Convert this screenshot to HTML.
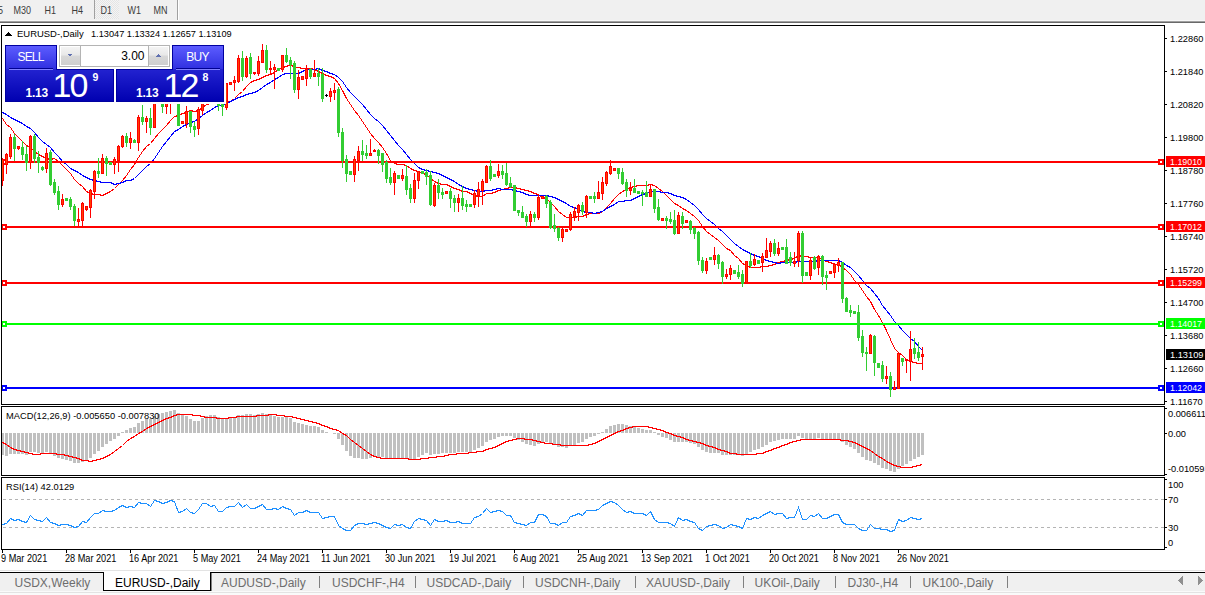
<!DOCTYPE html>
<html><head><meta charset="utf-8"><style>
html,body{margin:0;padding:0;background:#fff;width:1205px;height:595px;overflow:hidden}
svg{display:block;font-family:"Liberation Sans", sans-serif}
text{shape-rendering:auto}
</style></head><body>
<svg width="1205" height="595" viewBox="0 0 1205 595" shape-rendering="crispEdges">
<defs><pattern id="dots" width="2" height="2" patternUnits="userSpaceOnUse"><rect width="2" height="2" fill="#f4f4f4"/><rect width="1" height="1" fill="#e4e4e4"/><rect x="1" y="1" width="1" height="1" fill="#e4e4e4"/></pattern><linearGradient id="tabg" x1="0" y1="0" x2="0" y2="1"><stop offset="0" stop-color="#5c5cff"/><stop offset="1" stop-color="#3030e0"/></linearGradient><linearGradient id="blkg" x1="0" y1="0" x2="0" y2="1"><stop offset="0" stop-color="#3c3ce8"/><stop offset="1" stop-color="#0000b0"/></linearGradient><linearGradient id="btng" x1="0" y1="0" x2="0" y2="1"><stop offset="0" stop-color="#f4f4f4"/><stop offset="0.45" stop-color="#e8e8e8"/><stop offset="0.5" stop-color="#d8d8d8"/><stop offset="1" stop-color="#cfcfcf"/></linearGradient></defs>
<rect x="0" y="0" width="1205" height="21" fill="#f0f0f0"/>
<rect x="0" y="20" width="1205" height="1" fill="#f7f7f7"/>
<rect x="0" y="21" width="1205" height="1" fill="#a0a0a0"/>
<rect x="0" y="22" width="1205" height="1" fill="#696969"/>
<rect x="95" y="0" width="24" height="19" fill="url(#dots)"/>
<rect x="94" y="0" width="1" height="19" fill="#a0a0a0"/>
<rect x="177" y="0" width="1" height="20" fill="#a0a0a0"/><rect x="178" y="0" width="1" height="20" fill="#ffffff"/>
<text x="-14.5" y="13.5" font-size="10.2" fill="#3c3c3c" text-anchor="start" font-weight="normal" textLength="17.51" lengthAdjust="spacingAndGlyphs">M15</text>
<text x="13.5" y="13.5" font-size="10.2" fill="#3c3c3c" text-anchor="start" font-weight="normal" textLength="17.51" lengthAdjust="spacingAndGlyphs">M30</text>
<text x="44.5" y="13.5" font-size="10.2" fill="#3c3c3c" text-anchor="start" font-weight="normal" textLength="11.50" lengthAdjust="spacingAndGlyphs">H1</text>
<text x="71.5" y="13.5" font-size="10.2" fill="#3c3c3c" text-anchor="start" font-weight="normal" textLength="11.50" lengthAdjust="spacingAndGlyphs">H4</text>
<text x="100.5" y="13.5" font-size="10.2" fill="#3c3c3c" text-anchor="start" font-weight="normal" textLength="11.50" lengthAdjust="spacingAndGlyphs">D1</text>
<text x="127.5" y="13.5" font-size="10.2" fill="#3c3c3c" text-anchor="start" font-weight="normal" textLength="13.50" lengthAdjust="spacingAndGlyphs">W1</text>
<text x="153.5" y="13.5" font-size="10.2" fill="#3c3c3c" text-anchor="start" font-weight="normal" textLength="14.00" lengthAdjust="spacingAndGlyphs">MN</text>
<rect x="1.5" y="25.5" width="1163" height="379" fill="#fff" stroke="#000" stroke-width="1"/>
<rect x="1.5" y="406.5" width="1163" height="69" fill="#fff" stroke="#000" stroke-width="1"/>
<rect x="1.5" y="477.5" width="1163" height="72" fill="#fff" stroke="#000" stroke-width="1"/>
<clipPath id="mainclip"><rect x="2" y="26" width="1162" height="378"/></clipPath>
<clipPath id="macdclip"><rect x="2" y="407" width="1162" height="68"/></clipPath>
<clipPath id="rsiclip"><rect x="2" y="478" width="1162" height="71"/></clipPath>
<g clip-path="url(#mainclip)">
<polyline points="2.5,118.5 6.5,124.5 10.5,127.5 14.5,133.5 18.5,137.5 22.5,141.5 26.5,145.5 30.5,147.5 34.5,151.5 38.5,154.5 42.5,156.5 46.5,158.5 50.5,159.5 54.5,158.5 58.5,161.5 62.5,165.5 66.5,169.5 70.5,173.5 74.5,179.5 78.5,183.5 82.5,186.5 86.5,191.5 90.5,193.5 94.5,194.5 98.5,194.5 102.5,195.5 106.5,193.5 110.5,191.5 114.5,188.5 118.5,184.5 122.5,180.5 126.5,175.5 130.5,169.5 134.5,164.5 138.5,157.5 142.5,151.5 146.5,146.5 150.5,143.5 154.5,138.5 158.5,133.5 162.5,129.5 166.5,125.5 170.5,120.5 174.5,116.5 178.5,115.5 182.5,113.5 186.5,112.5 190.5,110.5 194.5,111.5 198.5,110.5 202.5,107.5 206.5,104.5 210.5,103.5 214.5,102.5 218.5,102.5 222.5,102.5 226.5,102.5 230.5,101.5 234.5,98.5 238.5,94.5 242.5,91.5 246.5,86.5 250.5,82.5 254.5,80.5 258.5,79.5 262.5,77.5 266.5,75.5 270.5,74.5 274.5,72.5 278.5,69.5 282.5,67.5 286.5,66.5 290.5,64.5 294.5,67.5 298.5,67.5 302.5,68.5 306.5,68.5 310.5,68.5 314.5,69.5 318.5,71.5 322.5,73.5 326.5,75.5 330.5,76.5 334.5,78.5 338.5,83.5 342.5,90.5 346.5,98.5 350.5,104.5 354.5,110.5 358.5,115.5 362.5,121.5 366.5,127.5 370.5,133.5 374.5,138.5 378.5,142.5 382.5,147.5 386.5,153.5 390.5,160.5 394.5,163.5 398.5,164.5 402.5,164.5 406.5,165.5 410.5,168.5 414.5,170.5 418.5,171.5 422.5,173.5 426.5,174.5 430.5,178.5 434.5,181.5 438.5,183.5 442.5,184.5 446.5,184.5 450.5,186.5 454.5,188.5 458.5,189.5 462.5,191.5 466.5,191.5 470.5,193.5 474.5,195.5 478.5,196.5 482.5,196.5 486.5,193.5 490.5,193.5 494.5,192.5 498.5,190.5 502.5,189.5 506.5,188.5 510.5,187.5 514.5,187.5 518.5,188.5 522.5,189.5 526.5,190.5 530.5,191.5 534.5,193.5 538.5,194.5 542.5,197.5 546.5,198.5 550.5,202.5 554.5,206.5 558.5,211.5 562.5,214.5 566.5,217.5 570.5,217.5 574.5,217.5 578.5,216.5 582.5,216.5 586.5,214.5 590.5,213.5 594.5,213.5 598.5,213.5 602.5,211.5 606.5,207.5 610.5,203.5 614.5,198.5 618.5,194.5 622.5,191.5 626.5,189.5 630.5,187.5 634.5,186.5 638.5,185.5 642.5,185.5 646.5,185.5 650.5,184.5 654.5,185.5 658.5,188.5 662.5,191.5 666.5,195.5 670.5,199.5 674.5,203.5 678.5,205.5 682.5,208.5 686.5,210.5 690.5,213.5 694.5,216.5 698.5,220.5 702.5,226.5 706.5,231.5 710.5,234.5 714.5,237.5 718.5,240.5 722.5,244.5 726.5,248.5 730.5,250.5 734.5,255.5 738.5,258.5 742.5,263.5 746.5,265.5 750.5,267.5 754.5,267.5 758.5,267.5 762.5,266.5 766.5,266.5 770.5,265.5 774.5,264.5 778.5,262.5 782.5,261.5 786.5,260.5 790.5,259.5 794.5,258.5 798.5,255.5 802.5,256.5 806.5,256.5 810.5,257.5 814.5,257.5 818.5,257.5 822.5,259.5 826.5,261.5 830.5,262.5 834.5,264.5 838.5,264.5 842.5,267.5 846.5,270.5 850.5,274.5 854.5,280.5 858.5,284.5 862.5,290.5 866.5,296.5 870.5,301.5 874.5,309.5 878.5,315.5 882.5,322.5 886.5,330.5 890.5,339.5 894.5,348.5 898.5,352.5 902.5,355.5 906.5,359.5 910.5,361.5 914.5,362.5 918.5,363.5 922.5,363.5" fill="none" stroke="#ff0000" stroke-width="1" />
<polyline points="2.5,112.5 6.5,114.5 10.5,117.5 14.5,119.5 18.5,121.5 22.5,123.5 26.5,126.5 30.5,128.5 34.5,132.5 38.5,137.5 42.5,141.5 46.5,144.5 50.5,147.5 54.5,152.5 58.5,156.5 62.5,161.5 66.5,164.5 70.5,168.5 74.5,170.5 78.5,172.5 82.5,175.5 86.5,177.5 90.5,179.5 94.5,180.5 98.5,181.5 102.5,182.5 106.5,182.5 110.5,182.5 114.5,184.5 118.5,183.5 122.5,182.5 126.5,180.5 130.5,180.5 134.5,178.5 138.5,174.5 142.5,170.5 146.5,166.5 150.5,163.5 154.5,158.5 158.5,152.5 162.5,146.5 166.5,141.5 170.5,136.5 174.5,131.5 178.5,129.5 182.5,126.5 186.5,124.5 190.5,122.5 194.5,121.5 198.5,118.5 202.5,115.5 206.5,112.5 210.5,110.5 214.5,107.5 218.5,105.5 222.5,105.5 226.5,103.5 230.5,101.5 234.5,99.5 238.5,97.5 242.5,96.5 246.5,94.5 250.5,93.5 254.5,92.5 258.5,90.5 262.5,87.5 266.5,84.5 270.5,82.5 274.5,79.5 278.5,77.5 282.5,74.5 286.5,73.5 290.5,73.5 294.5,73.5 298.5,73.5 302.5,71.5 306.5,69.5 310.5,69.5 314.5,69.5 318.5,68.5 322.5,70.5 326.5,71.5 330.5,73.5 334.5,74.5 338.5,77.5 342.5,81.5 346.5,87.5 350.5,92.5 354.5,96.5 358.5,100.5 362.5,104.5 366.5,109.5 370.5,114.5 374.5,118.5 378.5,121.5 382.5,125.5 386.5,130.5 390.5,135.5 394.5,140.5 398.5,145.5 402.5,149.5 406.5,154.5 410.5,159.5 414.5,163.5 418.5,167.5 422.5,169.5 426.5,170.5 430.5,171.5 434.5,172.5 438.5,173.5 442.5,175.5 446.5,177.5 450.5,179.5 454.5,181.5 458.5,184.5 462.5,186.5 466.5,188.5 470.5,189.5 474.5,190.5 478.5,191.5 482.5,191.5 486.5,190.5 490.5,190.5 494.5,189.5 498.5,188.5 502.5,189.5 506.5,189.5 510.5,189.5 514.5,190.5 518.5,191.5 522.5,192.5 526.5,194.5 530.5,195.5 534.5,195.5 538.5,195.5 542.5,195.5 546.5,195.5 550.5,196.5 554.5,197.5 558.5,199.5 562.5,201.5 566.5,203.5 570.5,206.5 574.5,207.5 578.5,209.5 582.5,211.5 586.5,212.5 590.5,212.5 594.5,213.5 598.5,212.5 602.5,211.5 606.5,208.5 610.5,206.5 614.5,204.5 618.5,201.5 622.5,201.5 626.5,200.5 630.5,200.5 634.5,198.5 638.5,196.5 642.5,194.5 646.5,193.5 650.5,191.5 654.5,191.5 658.5,191.5 662.5,192.5 666.5,192.5 670.5,193.5 674.5,195.5 678.5,196.5 682.5,197.5 686.5,199.5 690.5,202.5 694.5,205.5 698.5,209.5 702.5,214.5 706.5,218.5 710.5,221.5 714.5,224.5 718.5,228.5 722.5,231.5 726.5,235.5 730.5,239.5 734.5,243.5 738.5,246.5 742.5,249.5 746.5,251.5 750.5,253.5 754.5,255.5 758.5,256.5 762.5,258.5 766.5,260.5 770.5,261.5 774.5,262.5 778.5,263.5 782.5,262.5 786.5,262.5 790.5,262.5 794.5,262.5 798.5,261.5 802.5,261.5 806.5,261.5 810.5,261.5 814.5,261.5 818.5,260.5 822.5,260.5 826.5,260.5 830.5,260.5 834.5,260.5 838.5,260.5 842.5,262.5 846.5,265.5 850.5,267.5 854.5,271.5 858.5,275.5 862.5,280.5 866.5,285.5 870.5,288.5 874.5,293.5 878.5,298.5 882.5,305.5 886.5,310.5 890.5,315.5 894.5,321.5 898.5,325.5 902.5,330.5 906.5,334.5 910.5,338.5 914.5,341.5 918.5,346.5 922.5,350.5" fill="none" stroke="#0000ff" stroke-width="1" />
<rect x="2" y="161" width="1163" height="2" fill="#ff0000"/>
<rect x="1" y="159" width="6" height="6" fill="#ff0000"/>
<rect x="3" y="161" width="2" height="2" fill="#fff"/>
<rect x="1158" y="159" width="6" height="6" fill="#ff0000"/>
<rect x="1160" y="161" width="2" height="2" fill="#fff"/>
<rect x="2" y="226" width="1163" height="2" fill="#ff0000"/>
<rect x="1" y="224" width="6" height="6" fill="#ff0000"/>
<rect x="3" y="226" width="2" height="2" fill="#fff"/>
<rect x="1158" y="224" width="6" height="6" fill="#ff0000"/>
<rect x="1160" y="226" width="2" height="2" fill="#fff"/>
<rect x="2" y="282" width="1163" height="2" fill="#ff0000"/>
<rect x="1" y="280" width="6" height="6" fill="#ff0000"/>
<rect x="3" y="282" width="2" height="2" fill="#fff"/>
<rect x="1158" y="280" width="6" height="6" fill="#ff0000"/>
<rect x="1160" y="282" width="2" height="2" fill="#fff"/>
<rect x="2" y="323" width="1163" height="2" fill="#00ff00"/>
<rect x="1" y="321" width="6" height="6" fill="#00ff00"/>
<rect x="3" y="323" width="2" height="2" fill="#fff"/>
<rect x="1158" y="321" width="6" height="6" fill="#00ff00"/>
<rect x="1160" y="323" width="2" height="2" fill="#fff"/>
<rect x="2" y="387" width="1163" height="2" fill="#0000ff"/>
<rect x="1" y="385" width="6" height="6" fill="#0000ff"/>
<rect x="3" y="387" width="2" height="2" fill="#fff"/>
<rect x="1158" y="385" width="6" height="6" fill="#0000ff"/>
<rect x="1160" y="387" width="2" height="2" fill="#fff"/>
<rect x="2" y="158" width="1" height="28" fill="#ff0000"/>
<rect x="1" y="159" width="3" height="22" fill="#ff0000"/>
<rect x="2" y="160" width="1" height="20" fill="#ff4000"/>
<rect x="6" y="153" width="1" height="21" fill="#ff0000"/>
<rect x="5" y="154" width="3" height="11" fill="#ff0000"/>
<rect x="6" y="155" width="1" height="9" fill="#ff4000"/>
<rect x="10" y="134" width="1" height="25" fill="#ff0000"/>
<rect x="9" y="137" width="3" height="20" fill="#ff0000"/>
<rect x="10" y="138" width="1" height="18" fill="#ff4000"/>
<rect x="14" y="134" width="1" height="27" fill="#32cd32"/>
<rect x="13" y="137" width="3" height="12" fill="#32cd32"/>
<rect x="18" y="146" width="1" height="4" fill="#ff0000"/>
<rect x="17" y="146" width="3" height="3" fill="#ff0000"/>
<rect x="18" y="147" width="1" height="1" fill="#ff4000"/>
<rect x="22" y="141" width="1" height="19" fill="#32cd32"/>
<rect x="21" y="147" width="3" height="8" fill="#32cd32"/>
<rect x="26" y="146" width="1" height="25" fill="#32cd32"/>
<rect x="25" y="154" width="3" height="9" fill="#32cd32"/>
<rect x="30" y="135" width="1" height="34" fill="#ff0000"/>
<rect x="29" y="136" width="3" height="27" fill="#ff0000"/>
<rect x="30" y="137" width="1" height="25" fill="#ff4000"/>
<rect x="34" y="134" width="1" height="29" fill="#32cd32"/>
<rect x="33" y="136" width="3" height="23" fill="#32cd32"/>
<rect x="38" y="151" width="1" height="22" fill="#32cd32"/>
<rect x="37" y="157" width="3" height="6" fill="#32cd32"/>
<rect x="42" y="166" width="1" height="5" fill="#32cd32"/>
<rect x="41" y="167" width="3" height="3" fill="#32cd32"/>
<rect x="46" y="148" width="1" height="25" fill="#ff0000"/>
<rect x="45" y="153" width="3" height="16" fill="#ff0000"/>
<rect x="46" y="154" width="1" height="14" fill="#ff4000"/>
<rect x="50" y="150" width="1" height="36" fill="#32cd32"/>
<rect x="49" y="152" width="3" height="33" fill="#32cd32"/>
<rect x="54" y="179" width="1" height="16" fill="#32cd32"/>
<rect x="53" y="182" width="3" height="11" fill="#32cd32"/>
<rect x="58" y="186" width="1" height="24" fill="#32cd32"/>
<rect x="57" y="191" width="3" height="14" fill="#32cd32"/>
<rect x="62" y="194" width="1" height="13" fill="#ff0000"/>
<rect x="61" y="199" width="3" height="6" fill="#ff0000"/>
<rect x="62" y="200" width="1" height="4" fill="#ff4000"/>
<rect x="66" y="198" width="1" height="3" fill="#32cd32"/>
<rect x="65" y="198" width="3" height="3" fill="#32cd32"/>
<rect x="70" y="197" width="1" height="13" fill="#32cd32"/>
<rect x="69" y="199" width="3" height="8" fill="#32cd32"/>
<rect x="74" y="204" width="1" height="22" fill="#32cd32"/>
<rect x="73" y="206" width="3" height="15" fill="#32cd32"/>
<rect x="78" y="208" width="1" height="19" fill="#ff0000"/>
<rect x="77" y="219" width="3" height="3" fill="#ff0000"/>
<rect x="78" y="220" width="1" height="1" fill="#ff4000"/>
<rect x="82" y="202" width="1" height="24" fill="#ff0000"/>
<rect x="81" y="203" width="3" height="18" fill="#ff0000"/>
<rect x="82" y="204" width="1" height="16" fill="#ff4000"/>
<rect x="86" y="206" width="1" height="5" fill="#ff0000"/>
<rect x="85" y="206" width="3" height="4" fill="#ff0000"/>
<rect x="86" y="207" width="1" height="2" fill="#ff4000"/>
<rect x="90" y="189" width="1" height="29" fill="#ff0000"/>
<rect x="89" y="190" width="3" height="18" fill="#ff0000"/>
<rect x="90" y="191" width="1" height="16" fill="#ff4000"/>
<rect x="94" y="170" width="1" height="29" fill="#ff0000"/>
<rect x="93" y="171" width="3" height="21" fill="#ff0000"/>
<rect x="94" y="172" width="1" height="19" fill="#ff4000"/>
<rect x="98" y="158" width="1" height="20" fill="#32cd32"/>
<rect x="97" y="171" width="3" height="3" fill="#32cd32"/>
<rect x="102" y="154" width="1" height="20" fill="#ff0000"/>
<rect x="101" y="158" width="3" height="16" fill="#ff0000"/>
<rect x="102" y="159" width="1" height="14" fill="#ff4000"/>
<rect x="106" y="156" width="1" height="20" fill="#32cd32"/>
<rect x="105" y="158" width="3" height="6" fill="#32cd32"/>
<rect x="110" y="162" width="1" height="3" fill="#32cd32"/>
<rect x="109" y="162" width="3" height="3" fill="#32cd32"/>
<rect x="114" y="157" width="1" height="17" fill="#ff0000"/>
<rect x="113" y="159" width="3" height="6" fill="#ff0000"/>
<rect x="114" y="160" width="1" height="4" fill="#ff4000"/>
<rect x="118" y="145" width="1" height="27" fill="#ff0000"/>
<rect x="117" y="146" width="3" height="15" fill="#ff0000"/>
<rect x="118" y="147" width="1" height="13" fill="#ff4000"/>
<rect x="122" y="135" width="1" height="13" fill="#ff0000"/>
<rect x="121" y="136" width="3" height="11" fill="#ff0000"/>
<rect x="122" y="137" width="1" height="9" fill="#ff4000"/>
<rect x="126" y="133" width="1" height="14" fill="#32cd32"/>
<rect x="125" y="136" width="3" height="7" fill="#32cd32"/>
<rect x="130" y="132" width="1" height="17" fill="#ff0000"/>
<rect x="129" y="138" width="3" height="5" fill="#ff0000"/>
<rect x="130" y="139" width="1" height="3" fill="#ff4000"/>
<rect x="134" y="139" width="1" height="4" fill="#32cd32"/>
<rect x="133" y="140" width="3" height="3" fill="#32cd32"/>
<rect x="138" y="115" width="1" height="36" fill="#ff0000"/>
<rect x="137" y="117" width="3" height="26" fill="#ff0000"/>
<rect x="138" y="118" width="1" height="24" fill="#ff4000"/>
<rect x="142" y="105" width="1" height="20" fill="#32cd32"/>
<rect x="141" y="117" width="3" height="5" fill="#32cd32"/>
<rect x="146" y="116" width="1" height="17" fill="#ff0000"/>
<rect x="145" y="118" width="3" height="4" fill="#ff0000"/>
<rect x="146" y="119" width="1" height="2" fill="#ff4000"/>
<rect x="150" y="108" width="1" height="27" fill="#32cd32"/>
<rect x="149" y="118" width="3" height="10" fill="#32cd32"/>
<rect x="154" y="96" width="1" height="32" fill="#ff0000"/>
<rect x="153" y="97" width="3" height="31" fill="#ff0000"/>
<rect x="154" y="98" width="1" height="29" fill="#ff4000"/>
<rect x="158" y="95" width="1" height="6" fill="#32cd32"/>
<rect x="157" y="97" width="3" height="2" fill="#32cd32"/>
<rect x="162" y="93" width="1" height="20" fill="#32cd32"/>
<rect x="161" y="97" width="3" height="10" fill="#32cd32"/>
<rect x="166" y="98" width="1" height="16" fill="#ff0000"/>
<rect x="165" y="100" width="3" height="7" fill="#ff0000"/>
<rect x="166" y="101" width="1" height="5" fill="#ff4000"/>
<rect x="170" y="82" width="1" height="32" fill="#ff0000"/>
<rect x="169" y="88" width="3" height="13" fill="#ff0000"/>
<rect x="170" y="89" width="1" height="11" fill="#ff4000"/>
<rect x="174" y="82" width="1" height="16" fill="#32cd32"/>
<rect x="173" y="88" width="3" height="4" fill="#32cd32"/>
<rect x="178" y="89" width="1" height="37" fill="#32cd32"/>
<rect x="177" y="91" width="3" height="35" fill="#32cd32"/>
<rect x="182" y="121" width="1" height="3" fill="#ff0000"/>
<rect x="181" y="121" width="3" height="3" fill="#ff0000"/>
<rect x="182" y="122" width="1" height="1" fill="#ff4000"/>
<rect x="186" y="106" width="1" height="22" fill="#ff0000"/>
<rect x="185" y="111" width="3" height="13" fill="#ff0000"/>
<rect x="186" y="112" width="1" height="11" fill="#ff4000"/>
<rect x="190" y="111" width="1" height="22" fill="#32cd32"/>
<rect x="189" y="111" width="3" height="16" fill="#32cd32"/>
<rect x="194" y="122" width="1" height="15" fill="#32cd32"/>
<rect x="193" y="126" width="3" height="4" fill="#32cd32"/>
<rect x="198" y="107" width="1" height="28" fill="#ff0000"/>
<rect x="197" y="109" width="3" height="20" fill="#ff0000"/>
<rect x="198" y="110" width="1" height="18" fill="#ff4000"/>
<rect x="202" y="75" width="1" height="40" fill="#ff0000"/>
<rect x="201" y="76" width="3" height="35" fill="#ff0000"/>
<rect x="202" y="77" width="1" height="33" fill="#ff4000"/>
<rect x="206" y="75" width="1" height="4" fill="#32cd32"/>
<rect x="205" y="76" width="3" height="2" fill="#32cd32"/>
<rect x="210" y="70" width="1" height="20" fill="#32cd32"/>
<rect x="209" y="76" width="3" height="12" fill="#32cd32"/>
<rect x="214" y="69" width="1" height="20" fill="#ff0000"/>
<rect x="213" y="82" width="3" height="6" fill="#ff0000"/>
<rect x="214" y="83" width="1" height="4" fill="#ff4000"/>
<rect x="218" y="80" width="1" height="31" fill="#32cd32"/>
<rect x="217" y="82" width="3" height="24" fill="#32cd32"/>
<rect x="222" y="97" width="1" height="19" fill="#32cd32"/>
<rect x="221" y="103" width="3" height="4" fill="#32cd32"/>
<rect x="226" y="83" width="1" height="27" fill="#ff0000"/>
<rect x="225" y="83" width="3" height="25" fill="#ff0000"/>
<rect x="226" y="84" width="1" height="23" fill="#ff4000"/>
<rect x="230" y="82" width="1" height="3" fill="#ff0000"/>
<rect x="229" y="82" width="3" height="3" fill="#ff0000"/>
<rect x="230" y="83" width="1" height="1" fill="#ff4000"/>
<rect x="234" y="76" width="1" height="15" fill="#ff0000"/>
<rect x="233" y="80" width="3" height="3" fill="#ff0000"/>
<rect x="234" y="81" width="1" height="1" fill="#ff4000"/>
<rect x="238" y="55" width="1" height="28" fill="#ff0000"/>
<rect x="237" y="58" width="3" height="24" fill="#ff0000"/>
<rect x="238" y="59" width="1" height="22" fill="#ff4000"/>
<rect x="242" y="51" width="1" height="30" fill="#32cd32"/>
<rect x="241" y="58" width="3" height="19" fill="#32cd32"/>
<rect x="246" y="56" width="1" height="22" fill="#ff0000"/>
<rect x="245" y="58" width="3" height="19" fill="#ff0000"/>
<rect x="246" y="59" width="1" height="17" fill="#ff4000"/>
<rect x="250" y="53" width="1" height="26" fill="#32cd32"/>
<rect x="249" y="57" width="3" height="17" fill="#32cd32"/>
<rect x="254" y="72" width="1" height="3" fill="#ff0000"/>
<rect x="253" y="72" width="3" height="2" fill="#ff0000"/>
<rect x="258" y="56" width="1" height="20" fill="#ff0000"/>
<rect x="257" y="61" width="3" height="13" fill="#ff0000"/>
<rect x="258" y="62" width="1" height="11" fill="#ff4000"/>
<rect x="262" y="44" width="1" height="19" fill="#ff0000"/>
<rect x="261" y="50" width="3" height="13" fill="#ff0000"/>
<rect x="262" y="51" width="1" height="11" fill="#ff4000"/>
<rect x="266" y="45" width="1" height="28" fill="#32cd32"/>
<rect x="265" y="50" width="3" height="20" fill="#32cd32"/>
<rect x="270" y="61" width="1" height="14" fill="#ff0000"/>
<rect x="269" y="68" width="3" height="2" fill="#ff0000"/>
<rect x="274" y="64" width="1" height="25" fill="#ff0000"/>
<rect x="273" y="67" width="3" height="3" fill="#ff0000"/>
<rect x="274" y="68" width="1" height="1" fill="#ff4000"/>
<rect x="278" y="68" width="1" height="3" fill="#32cd32"/>
<rect x="277" y="68" width="3" height="3" fill="#32cd32"/>
<rect x="282" y="55" width="1" height="17" fill="#ff0000"/>
<rect x="281" y="55" width="3" height="15" fill="#ff0000"/>
<rect x="282" y="56" width="1" height="13" fill="#ff4000"/>
<rect x="286" y="48" width="1" height="15" fill="#32cd32"/>
<rect x="285" y="55" width="3" height="7" fill="#32cd32"/>
<rect x="290" y="57" width="1" height="22" fill="#32cd32"/>
<rect x="289" y="60" width="3" height="5" fill="#32cd32"/>
<rect x="294" y="61" width="1" height="32" fill="#32cd32"/>
<rect x="293" y="63" width="3" height="27" fill="#32cd32"/>
<rect x="298" y="70" width="1" height="29" fill="#ff0000"/>
<rect x="297" y="77" width="3" height="13" fill="#ff0000"/>
<rect x="298" y="78" width="1" height="11" fill="#ff4000"/>
<rect x="302" y="76" width="1" height="4" fill="#ff0000"/>
<rect x="301" y="76" width="3" height="4" fill="#ff0000"/>
<rect x="302" y="77" width="1" height="2" fill="#ff4000"/>
<rect x="306" y="65" width="1" height="21" fill="#ff0000"/>
<rect x="305" y="69" width="3" height="10" fill="#ff0000"/>
<rect x="306" y="70" width="1" height="8" fill="#ff4000"/>
<rect x="310" y="68" width="1" height="11" fill="#32cd32"/>
<rect x="309" y="69" width="3" height="8" fill="#32cd32"/>
<rect x="314" y="60" width="1" height="17" fill="#ff0000"/>
<rect x="313" y="73" width="3" height="4" fill="#ff0000"/>
<rect x="314" y="74" width="1" height="2" fill="#ff4000"/>
<rect x="318" y="68" width="1" height="18" fill="#32cd32"/>
<rect x="317" y="73" width="3" height="4" fill="#32cd32"/>
<rect x="322" y="68" width="1" height="34" fill="#32cd32"/>
<rect x="321" y="74" width="3" height="25" fill="#32cd32"/>
<rect x="326" y="94" width="1" height="3" fill="#000"/>
<rect x="325" y="95" width="3" height="1" fill="#000"/>
<rect x="330" y="88" width="1" height="14" fill="#ff0000"/>
<rect x="329" y="91" width="3" height="6" fill="#ff0000"/>
<rect x="330" y="92" width="1" height="4" fill="#ff4000"/>
<rect x="334" y="83" width="1" height="17" fill="#ff0000"/>
<rect x="333" y="90" width="3" height="3" fill="#ff0000"/>
<rect x="334" y="91" width="1" height="1" fill="#ff4000"/>
<rect x="338" y="87" width="1" height="50" fill="#32cd32"/>
<rect x="337" y="89" width="3" height="44" fill="#32cd32"/>
<rect x="342" y="128" width="1" height="40" fill="#32cd32"/>
<rect x="341" y="132" width="3" height="29" fill="#32cd32"/>
<rect x="346" y="155" width="1" height="27" fill="#32cd32"/>
<rect x="345" y="159" width="3" height="15" fill="#32cd32"/>
<rect x="350" y="171" width="1" height="4" fill="#32cd32"/>
<rect x="349" y="171" width="3" height="4" fill="#32cd32"/>
<rect x="354" y="156" width="1" height="26" fill="#ff0000"/>
<rect x="353" y="159" width="3" height="16" fill="#ff0000"/>
<rect x="354" y="160" width="1" height="14" fill="#ff4000"/>
<rect x="358" y="146" width="1" height="25" fill="#ff0000"/>
<rect x="357" y="151" width="3" height="10" fill="#ff0000"/>
<rect x="358" y="152" width="1" height="8" fill="#ff4000"/>
<rect x="362" y="140" width="1" height="21" fill="#32cd32"/>
<rect x="361" y="151" width="3" height="4" fill="#32cd32"/>
<rect x="366" y="145" width="1" height="14" fill="#32cd32"/>
<rect x="365" y="153" width="3" height="3" fill="#32cd32"/>
<rect x="370" y="139" width="1" height="17" fill="#ff0000"/>
<rect x="369" y="153" width="3" height="3" fill="#ff0000"/>
<rect x="370" y="154" width="1" height="1" fill="#ff4000"/>
<rect x="374" y="149" width="1" height="3" fill="#ff0000"/>
<rect x="373" y="150" width="3" height="2" fill="#ff0000"/>
<rect x="378" y="149" width="1" height="15" fill="#32cd32"/>
<rect x="377" y="150" width="3" height="6" fill="#32cd32"/>
<rect x="382" y="153" width="1" height="19" fill="#32cd32"/>
<rect x="381" y="153" width="3" height="12" fill="#32cd32"/>
<rect x="386" y="160" width="1" height="23" fill="#32cd32"/>
<rect x="385" y="162" width="3" height="17" fill="#32cd32"/>
<rect x="390" y="168" width="1" height="17" fill="#32cd32"/>
<rect x="389" y="177" width="3" height="6" fill="#32cd32"/>
<rect x="394" y="171" width="1" height="24" fill="#ff0000"/>
<rect x="393" y="173" width="3" height="10" fill="#ff0000"/>
<rect x="394" y="174" width="1" height="8" fill="#ff4000"/>
<rect x="398" y="175" width="1" height="4" fill="#32cd32"/>
<rect x="397" y="175" width="3" height="4" fill="#32cd32"/>
<rect x="402" y="169" width="1" height="12" fill="#ff0000"/>
<rect x="401" y="175" width="3" height="4" fill="#ff0000"/>
<rect x="402" y="176" width="1" height="2" fill="#ff4000"/>
<rect x="406" y="165" width="1" height="30" fill="#32cd32"/>
<rect x="405" y="176" width="3" height="14" fill="#32cd32"/>
<rect x="410" y="184" width="1" height="19" fill="#32cd32"/>
<rect x="409" y="188" width="3" height="11" fill="#32cd32"/>
<rect x="414" y="173" width="1" height="30" fill="#ff0000"/>
<rect x="413" y="180" width="3" height="19" fill="#ff0000"/>
<rect x="414" y="181" width="1" height="17" fill="#ff4000"/>
<rect x="418" y="171" width="1" height="18" fill="#ff0000"/>
<rect x="417" y="171" width="3" height="10" fill="#ff0000"/>
<rect x="418" y="172" width="1" height="8" fill="#ff4000"/>
<rect x="422" y="171" width="1" height="3" fill="#32cd32"/>
<rect x="421" y="171" width="3" height="3" fill="#32cd32"/>
<rect x="426" y="169" width="1" height="16" fill="#32cd32"/>
<rect x="425" y="172" width="3" height="5" fill="#32cd32"/>
<rect x="430" y="171" width="1" height="35" fill="#32cd32"/>
<rect x="429" y="175" width="3" height="30" fill="#32cd32"/>
<rect x="434" y="183" width="1" height="24" fill="#ff0000"/>
<rect x="433" y="185" width="3" height="21" fill="#ff0000"/>
<rect x="434" y="186" width="1" height="19" fill="#ff4000"/>
<rect x="438" y="179" width="1" height="20" fill="#32cd32"/>
<rect x="437" y="185" width="3" height="8" fill="#32cd32"/>
<rect x="442" y="188" width="1" height="11" fill="#32cd32"/>
<rect x="441" y="192" width="3" height="3" fill="#32cd32"/>
<rect x="446" y="191" width="1" height="3" fill="#ff0000"/>
<rect x="445" y="191" width="3" height="3" fill="#ff0000"/>
<rect x="446" y="192" width="1" height="1" fill="#ff4000"/>
<rect x="450" y="188" width="1" height="20" fill="#32cd32"/>
<rect x="449" y="191" width="3" height="8" fill="#32cd32"/>
<rect x="454" y="195" width="1" height="17" fill="#32cd32"/>
<rect x="453" y="198" width="3" height="5" fill="#32cd32"/>
<rect x="458" y="194" width="1" height="18" fill="#ff0000"/>
<rect x="457" y="198" width="3" height="5" fill="#ff0000"/>
<rect x="458" y="199" width="1" height="3" fill="#ff4000"/>
<rect x="462" y="186" width="1" height="24" fill="#32cd32"/>
<rect x="461" y="198" width="3" height="8" fill="#32cd32"/>
<rect x="466" y="200" width="1" height="12" fill="#32cd32"/>
<rect x="465" y="204" width="3" height="3" fill="#32cd32"/>
<rect x="470" y="204" width="1" height="3" fill="#32cd32"/>
<rect x="469" y="204" width="3" height="3" fill="#32cd32"/>
<rect x="474" y="190" width="1" height="18" fill="#ff0000"/>
<rect x="473" y="193" width="3" height="12" fill="#ff0000"/>
<rect x="474" y="194" width="1" height="10" fill="#ff4000"/>
<rect x="478" y="182" width="1" height="25" fill="#ff0000"/>
<rect x="477" y="189" width="3" height="7" fill="#ff0000"/>
<rect x="478" y="190" width="1" height="5" fill="#ff4000"/>
<rect x="482" y="179" width="1" height="26" fill="#ff0000"/>
<rect x="481" y="181" width="3" height="10" fill="#ff0000"/>
<rect x="482" y="182" width="1" height="8" fill="#ff4000"/>
<rect x="486" y="165" width="1" height="18" fill="#ff0000"/>
<rect x="485" y="166" width="3" height="17" fill="#ff0000"/>
<rect x="486" y="167" width="1" height="15" fill="#ff4000"/>
<rect x="490" y="160" width="1" height="21" fill="#32cd32"/>
<rect x="489" y="166" width="3" height="13" fill="#32cd32"/>
<rect x="494" y="174" width="1" height="3" fill="#32cd32"/>
<rect x="493" y="174" width="3" height="3" fill="#32cd32"/>
<rect x="498" y="164" width="1" height="14" fill="#ff0000"/>
<rect x="497" y="171" width="3" height="5" fill="#ff0000"/>
<rect x="498" y="172" width="1" height="3" fill="#ff4000"/>
<rect x="502" y="165" width="1" height="14" fill="#32cd32"/>
<rect x="501" y="171" width="3" height="4" fill="#32cd32"/>
<rect x="506" y="163" width="1" height="23" fill="#32cd32"/>
<rect x="505" y="173" width="3" height="12" fill="#32cd32"/>
<rect x="510" y="177" width="1" height="11" fill="#32cd32"/>
<rect x="509" y="183" width="3" height="4" fill="#32cd32"/>
<rect x="514" y="185" width="1" height="26" fill="#32cd32"/>
<rect x="513" y="185" width="3" height="26" fill="#32cd32"/>
<rect x="518" y="210" width="1" height="6" fill="#32cd32"/>
<rect x="517" y="210" width="3" height="3" fill="#32cd32"/>
<rect x="522" y="206" width="1" height="12" fill="#32cd32"/>
<rect x="521" y="212" width="3" height="6" fill="#32cd32"/>
<rect x="526" y="214" width="1" height="13" fill="#32cd32"/>
<rect x="525" y="216" width="3" height="6" fill="#32cd32"/>
<rect x="530" y="211" width="1" height="16" fill="#ff0000"/>
<rect x="529" y="214" width="3" height="8" fill="#ff0000"/>
<rect x="530" y="215" width="1" height="6" fill="#ff4000"/>
<rect x="534" y="212" width="1" height="10" fill="#32cd32"/>
<rect x="533" y="214" width="3" height="4" fill="#32cd32"/>
<rect x="538" y="195" width="1" height="25" fill="#ff0000"/>
<rect x="537" y="197" width="3" height="21" fill="#ff0000"/>
<rect x="538" y="198" width="1" height="19" fill="#ff4000"/>
<rect x="542" y="196" width="1" height="3" fill="#ff0000"/>
<rect x="541" y="196" width="3" height="3" fill="#ff0000"/>
<rect x="542" y="197" width="1" height="1" fill="#ff4000"/>
<rect x="546" y="195" width="1" height="13" fill="#32cd32"/>
<rect x="545" y="196" width="3" height="8" fill="#32cd32"/>
<rect x="550" y="200" width="1" height="29" fill="#32cd32"/>
<rect x="549" y="202" width="3" height="26" fill="#32cd32"/>
<rect x="554" y="214" width="1" height="18" fill="#32cd32"/>
<rect x="553" y="225" width="3" height="4" fill="#32cd32"/>
<rect x="558" y="227" width="1" height="14" fill="#32cd32"/>
<rect x="557" y="228" width="3" height="10" fill="#32cd32"/>
<rect x="562" y="228" width="1" height="14" fill="#ff0000"/>
<rect x="561" y="229" width="3" height="9" fill="#ff0000"/>
<rect x="562" y="230" width="1" height="7" fill="#ff4000"/>
<rect x="566" y="229" width="1" height="3" fill="#ff0000"/>
<rect x="565" y="229" width="3" height="3" fill="#ff0000"/>
<rect x="566" y="230" width="1" height="1" fill="#ff4000"/>
<rect x="570" y="212" width="1" height="19" fill="#ff0000"/>
<rect x="569" y="214" width="3" height="16" fill="#ff0000"/>
<rect x="570" y="215" width="1" height="14" fill="#ff4000"/>
<rect x="574" y="207" width="1" height="14" fill="#ff0000"/>
<rect x="573" y="211" width="3" height="6" fill="#ff0000"/>
<rect x="574" y="212" width="1" height="4" fill="#ff4000"/>
<rect x="578" y="204" width="1" height="17" fill="#ff0000"/>
<rect x="577" y="205" width="3" height="8" fill="#ff0000"/>
<rect x="578" y="206" width="1" height="6" fill="#ff4000"/>
<rect x="582" y="202" width="1" height="13" fill="#32cd32"/>
<rect x="581" y="205" width="3" height="7" fill="#32cd32"/>
<rect x="586" y="195" width="1" height="23" fill="#ff0000"/>
<rect x="585" y="196" width="3" height="17" fill="#ff0000"/>
<rect x="586" y="197" width="1" height="15" fill="#ff4000"/>
<rect x="590" y="196" width="1" height="3" fill="#32cd32"/>
<rect x="589" y="196" width="3" height="3" fill="#32cd32"/>
<rect x="594" y="192" width="1" height="11" fill="#32cd32"/>
<rect x="593" y="196" width="3" height="3" fill="#32cd32"/>
<rect x="598" y="181" width="1" height="18" fill="#ff0000"/>
<rect x="597" y="192" width="3" height="7" fill="#ff0000"/>
<rect x="598" y="193" width="1" height="5" fill="#ff4000"/>
<rect x="602" y="177" width="1" height="23" fill="#ff0000"/>
<rect x="601" y="182" width="3" height="12" fill="#ff0000"/>
<rect x="602" y="183" width="1" height="10" fill="#ff4000"/>
<rect x="606" y="171" width="1" height="15" fill="#ff0000"/>
<rect x="605" y="172" width="3" height="12" fill="#ff0000"/>
<rect x="606" y="173" width="1" height="10" fill="#ff4000"/>
<rect x="610" y="160" width="1" height="15" fill="#ff0000"/>
<rect x="609" y="166" width="3" height="8" fill="#ff0000"/>
<rect x="610" y="167" width="1" height="6" fill="#ff4000"/>
<rect x="614" y="168" width="1" height="3" fill="#ff0000"/>
<rect x="613" y="168" width="3" height="3" fill="#ff0000"/>
<rect x="614" y="169" width="1" height="1" fill="#ff4000"/>
<rect x="618" y="168" width="1" height="11" fill="#32cd32"/>
<rect x="617" y="168" width="3" height="6" fill="#32cd32"/>
<rect x="622" y="168" width="1" height="17" fill="#32cd32"/>
<rect x="621" y="172" width="3" height="12" fill="#32cd32"/>
<rect x="626" y="179" width="1" height="18" fill="#32cd32"/>
<rect x="625" y="182" width="3" height="9" fill="#32cd32"/>
<rect x="630" y="182" width="1" height="13" fill="#ff0000"/>
<rect x="629" y="188" width="3" height="3" fill="#ff0000"/>
<rect x="630" y="189" width="1" height="1" fill="#ff4000"/>
<rect x="634" y="179" width="1" height="14" fill="#32cd32"/>
<rect x="633" y="188" width="3" height="5" fill="#32cd32"/>
<rect x="638" y="191" width="1" height="3" fill="#32cd32"/>
<rect x="637" y="191" width="3" height="3" fill="#32cd32"/>
<rect x="642" y="190" width="1" height="16" fill="#32cd32"/>
<rect x="641" y="192" width="3" height="2" fill="#32cd32"/>
<rect x="646" y="181" width="1" height="16" fill="#32cd32"/>
<rect x="645" y="192" width="3" height="5" fill="#32cd32"/>
<rect x="650" y="185" width="1" height="12" fill="#ff0000"/>
<rect x="649" y="189" width="3" height="8" fill="#ff0000"/>
<rect x="650" y="190" width="1" height="6" fill="#ff4000"/>
<rect x="654" y="189" width="1" height="24" fill="#32cd32"/>
<rect x="653" y="189" width="3" height="20" fill="#32cd32"/>
<rect x="658" y="199" width="1" height="22" fill="#32cd32"/>
<rect x="657" y="207" width="3" height="13" fill="#32cd32"/>
<rect x="662" y="218" width="1" height="3" fill="#ff0000"/>
<rect x="661" y="218" width="3" height="3" fill="#ff0000"/>
<rect x="662" y="219" width="1" height="1" fill="#ff4000"/>
<rect x="666" y="216" width="1" height="13" fill="#32cd32"/>
<rect x="665" y="218" width="3" height="3" fill="#32cd32"/>
<rect x="670" y="212" width="1" height="12" fill="#32cd32"/>
<rect x="669" y="219" width="3" height="3" fill="#32cd32"/>
<rect x="674" y="210" width="1" height="25" fill="#32cd32"/>
<rect x="673" y="220" width="3" height="14" fill="#32cd32"/>
<rect x="678" y="212" width="1" height="22" fill="#ff0000"/>
<rect x="677" y="215" width="3" height="19" fill="#ff0000"/>
<rect x="678" y="216" width="1" height="17" fill="#ff4000"/>
<rect x="682" y="212" width="1" height="17" fill="#32cd32"/>
<rect x="681" y="216" width="3" height="8" fill="#32cd32"/>
<rect x="686" y="220" width="1" height="3" fill="#ff0000"/>
<rect x="685" y="220" width="3" height="3" fill="#ff0000"/>
<rect x="686" y="221" width="1" height="1" fill="#ff4000"/>
<rect x="690" y="220" width="1" height="14" fill="#32cd32"/>
<rect x="689" y="221" width="3" height="9" fill="#32cd32"/>
<rect x="694" y="227" width="1" height="12" fill="#32cd32"/>
<rect x="693" y="228" width="3" height="6" fill="#32cd32"/>
<rect x="698" y="231" width="1" height="34" fill="#32cd32"/>
<rect x="697" y="232" width="3" height="29" fill="#32cd32"/>
<rect x="702" y="257" width="1" height="16" fill="#32cd32"/>
<rect x="701" y="260" width="3" height="11" fill="#32cd32"/>
<rect x="706" y="258" width="1" height="16" fill="#ff0000"/>
<rect x="705" y="261" width="3" height="10" fill="#ff0000"/>
<rect x="706" y="262" width="1" height="8" fill="#ff4000"/>
<rect x="710" y="257" width="1" height="3" fill="#32cd32"/>
<rect x="709" y="257" width="3" height="3" fill="#32cd32"/>
<rect x="714" y="247" width="1" height="18" fill="#ff0000"/>
<rect x="713" y="255" width="3" height="5" fill="#ff0000"/>
<rect x="714" y="256" width="1" height="3" fill="#ff4000"/>
<rect x="718" y="254" width="1" height="15" fill="#32cd32"/>
<rect x="717" y="255" width="3" height="9" fill="#32cd32"/>
<rect x="722" y="261" width="1" height="23" fill="#32cd32"/>
<rect x="721" y="262" width="3" height="15" fill="#32cd32"/>
<rect x="726" y="269" width="1" height="10" fill="#ff0000"/>
<rect x="725" y="274" width="3" height="3" fill="#ff0000"/>
<rect x="726" y="275" width="1" height="1" fill="#ff4000"/>
<rect x="730" y="265" width="1" height="15" fill="#ff0000"/>
<rect x="729" y="268" width="3" height="7" fill="#ff0000"/>
<rect x="730" y="269" width="1" height="5" fill="#ff4000"/>
<rect x="734" y="270" width="1" height="4" fill="#32cd32"/>
<rect x="733" y="270" width="3" height="4" fill="#32cd32"/>
<rect x="738" y="265" width="1" height="14" fill="#32cd32"/>
<rect x="737" y="272" width="3" height="5" fill="#32cd32"/>
<rect x="742" y="270" width="1" height="17" fill="#32cd32"/>
<rect x="741" y="274" width="3" height="10" fill="#32cd32"/>
<rect x="746" y="261" width="1" height="22" fill="#ff0000"/>
<rect x="745" y="261" width="3" height="22" fill="#ff0000"/>
<rect x="746" y="262" width="1" height="20" fill="#ff4000"/>
<rect x="750" y="253" width="1" height="15" fill="#32cd32"/>
<rect x="749" y="261" width="3" height="5" fill="#32cd32"/>
<rect x="754" y="254" width="1" height="12" fill="#ff0000"/>
<rect x="753" y="259" width="3" height="6" fill="#ff0000"/>
<rect x="754" y="260" width="1" height="4" fill="#ff4000"/>
<rect x="758" y="260" width="1" height="4" fill="#32cd32"/>
<rect x="757" y="260" width="3" height="4" fill="#32cd32"/>
<rect x="762" y="253" width="1" height="19" fill="#ff0000"/>
<rect x="761" y="256" width="3" height="7" fill="#ff0000"/>
<rect x="762" y="257" width="1" height="5" fill="#ff4000"/>
<rect x="766" y="238" width="1" height="20" fill="#ff0000"/>
<rect x="765" y="250" width="3" height="8" fill="#ff0000"/>
<rect x="766" y="251" width="1" height="6" fill="#ff4000"/>
<rect x="770" y="241" width="1" height="16" fill="#ff0000"/>
<rect x="769" y="243" width="3" height="9" fill="#ff0000"/>
<rect x="770" y="244" width="1" height="7" fill="#ff4000"/>
<rect x="774" y="239" width="1" height="17" fill="#32cd32"/>
<rect x="773" y="243" width="3" height="11" fill="#32cd32"/>
<rect x="778" y="242" width="1" height="14" fill="#ff0000"/>
<rect x="777" y="248" width="3" height="6" fill="#ff0000"/>
<rect x="778" y="249" width="1" height="4" fill="#ff4000"/>
<rect x="782" y="247" width="1" height="3" fill="#32cd32"/>
<rect x="781" y="247" width="3" height="3" fill="#32cd32"/>
<rect x="786" y="239" width="1" height="25" fill="#32cd32"/>
<rect x="785" y="247" width="3" height="17" fill="#32cd32"/>
<rect x="790" y="252" width="1" height="14" fill="#32cd32"/>
<rect x="789" y="257" width="3" height="6" fill="#32cd32"/>
<rect x="794" y="252" width="1" height="15" fill="#ff0000"/>
<rect x="793" y="261" width="3" height="3" fill="#ff0000"/>
<rect x="794" y="262" width="1" height="1" fill="#ff4000"/>
<rect x="798" y="231" width="1" height="36" fill="#ff0000"/>
<rect x="797" y="233" width="3" height="28" fill="#ff0000"/>
<rect x="798" y="234" width="1" height="26" fill="#ff4000"/>
<rect x="802" y="231" width="1" height="52" fill="#32cd32"/>
<rect x="801" y="233" width="3" height="43" fill="#32cd32"/>
<rect x="806" y="272" width="1" height="4" fill="#32cd32"/>
<rect x="805" y="272" width="3" height="4" fill="#32cd32"/>
<rect x="810" y="257" width="1" height="23" fill="#ff0000"/>
<rect x="809" y="260" width="3" height="16" fill="#ff0000"/>
<rect x="810" y="261" width="1" height="14" fill="#ff4000"/>
<rect x="814" y="256" width="1" height="14" fill="#32cd32"/>
<rect x="813" y="257" width="3" height="12" fill="#32cd32"/>
<rect x="818" y="255" width="1" height="20" fill="#ff0000"/>
<rect x="817" y="256" width="3" height="12" fill="#ff0000"/>
<rect x="818" y="257" width="1" height="10" fill="#ff4000"/>
<rect x="822" y="255" width="1" height="30" fill="#32cd32"/>
<rect x="821" y="256" width="3" height="21" fill="#32cd32"/>
<rect x="826" y="271" width="1" height="19" fill="#32cd32"/>
<rect x="825" y="275" width="3" height="3" fill="#32cd32"/>
<rect x="830" y="271" width="1" height="3" fill="#ff0000"/>
<rect x="829" y="271" width="3" height="3" fill="#ff0000"/>
<rect x="830" y="272" width="1" height="1" fill="#ff4000"/>
<rect x="834" y="263" width="1" height="15" fill="#ff0000"/>
<rect x="833" y="264" width="3" height="9" fill="#ff0000"/>
<rect x="834" y="265" width="1" height="7" fill="#ff4000"/>
<rect x="838" y="258" width="1" height="14" fill="#ff0000"/>
<rect x="837" y="262" width="3" height="4" fill="#ff0000"/>
<rect x="838" y="263" width="1" height="2" fill="#ff4000"/>
<rect x="842" y="262" width="1" height="41" fill="#32cd32"/>
<rect x="841" y="262" width="3" height="37" fill="#32cd32"/>
<rect x="846" y="297" width="1" height="15" fill="#32cd32"/>
<rect x="845" y="298" width="3" height="14" fill="#32cd32"/>
<rect x="850" y="305" width="1" height="12" fill="#32cd32"/>
<rect x="849" y="310" width="3" height="3" fill="#32cd32"/>
<rect x="854" y="311" width="1" height="3" fill="#32cd32"/>
<rect x="853" y="311" width="3" height="3" fill="#32cd32"/>
<rect x="858" y="305" width="1" height="36" fill="#32cd32"/>
<rect x="857" y="312" width="3" height="26" fill="#32cd32"/>
<rect x="862" y="330" width="1" height="27" fill="#32cd32"/>
<rect x="861" y="336" width="3" height="17" fill="#32cd32"/>
<rect x="866" y="347" width="1" height="24" fill="#32cd32"/>
<rect x="865" y="352" width="3" height="2" fill="#32cd32"/>
<rect x="870" y="334" width="1" height="20" fill="#ff0000"/>
<rect x="869" y="335" width="3" height="19" fill="#ff0000"/>
<rect x="870" y="336" width="1" height="17" fill="#ff4000"/>
<rect x="874" y="335" width="1" height="41" fill="#32cd32"/>
<rect x="873" y="336" width="3" height="27" fill="#32cd32"/>
<rect x="878" y="363" width="1" height="5" fill="#32cd32"/>
<rect x="877" y="363" width="3" height="5" fill="#32cd32"/>
<rect x="882" y="361" width="1" height="21" fill="#32cd32"/>
<rect x="881" y="365" width="3" height="14" fill="#32cd32"/>
<rect x="886" y="366" width="1" height="18" fill="#ff0000"/>
<rect x="885" y="376" width="3" height="3" fill="#ff0000"/>
<rect x="886" y="377" width="1" height="1" fill="#ff4000"/>
<rect x="890" y="372" width="1" height="25" fill="#32cd32"/>
<rect x="889" y="376" width="3" height="14" fill="#32cd32"/>
<rect x="894" y="381" width="1" height="9" fill="#ff0000"/>
<rect x="893" y="387" width="3" height="3" fill="#ff0000"/>
<rect x="894" y="388" width="1" height="1" fill="#ff4000"/>
<rect x="898" y="352" width="1" height="37" fill="#ff0000"/>
<rect x="897" y="353" width="3" height="36" fill="#ff0000"/>
<rect x="898" y="354" width="1" height="34" fill="#ff4000"/>
<rect x="902" y="358" width="1" height="8" fill="#32cd32"/>
<rect x="901" y="358" width="3" height="4" fill="#32cd32"/>
<rect x="906" y="359" width="1" height="14" fill="#ff0000"/>
<rect x="905" y="359" width="3" height="2" fill="#ff0000"/>
<rect x="910" y="331" width="1" height="50" fill="#ff0000"/>
<rect x="909" y="349" width="3" height="13" fill="#ff0000"/>
<rect x="910" y="350" width="1" height="11" fill="#ff4000"/>
<rect x="914" y="338" width="1" height="21" fill="#32cd32"/>
<rect x="913" y="348" width="3" height="6" fill="#32cd32"/>
<rect x="918" y="342" width="1" height="19" fill="#32cd32"/>
<rect x="917" y="352" width="3" height="6" fill="#32cd32"/>
<rect x="922" y="347" width="1" height="23" fill="#ff0000"/>
<rect x="921" y="354" width="3" height="3" fill="#ff0000"/>
<rect x="922" y="355" width="1" height="1" fill="#ff4000"/>
</g>
<g clip-path="url(#macdclip)"><rect x="2" y="433" width="2" height="22" fill="#c0c0c0"/>
<rect x="5" y="433" width="3" height="23" fill="#c0c0c0"/>
<rect x="9" y="433" width="3" height="21" fill="#c0c0c0"/>
<rect x="13" y="433" width="3" height="21" fill="#c0c0c0"/>
<rect x="17" y="433" width="3" height="21" fill="#c0c0c0"/>
<rect x="21" y="433" width="3" height="21" fill="#c0c0c0"/>
<rect x="25" y="433" width="3" height="22" fill="#c0c0c0"/>
<rect x="29" y="433" width="3" height="19" fill="#c0c0c0"/>
<rect x="33" y="433" width="3" height="19" fill="#c0c0c0"/>
<rect x="37" y="433" width="3" height="20" fill="#c0c0c0"/>
<rect x="41" y="433" width="3" height="20" fill="#c0c0c0"/>
<rect x="45" y="433" width="3" height="19" fill="#c0c0c0"/>
<rect x="49" y="433" width="3" height="21" fill="#c0c0c0"/>
<rect x="53" y="433" width="3" height="23" fill="#c0c0c0"/>
<rect x="57" y="433" width="3" height="25" fill="#c0c0c0"/>
<rect x="61" y="433" width="3" height="26" fill="#c0c0c0"/>
<rect x="65" y="433" width="3" height="27" fill="#c0c0c0"/>
<rect x="69" y="433" width="3" height="28" fill="#c0c0c0"/>
<rect x="73" y="433" width="3" height="30" fill="#c0c0c0"/>
<rect x="77" y="433" width="3" height="30" fill="#c0c0c0"/>
<rect x="81" y="433" width="3" height="29" fill="#c0c0c0"/>
<rect x="85" y="433" width="3" height="28" fill="#c0c0c0"/>
<rect x="89" y="433" width="3" height="25" fill="#c0c0c0"/>
<rect x="93" y="433" width="3" height="21" fill="#c0c0c0"/>
<rect x="97" y="433" width="3" height="18" fill="#c0c0c0"/>
<rect x="101" y="433" width="3" height="14" fill="#c0c0c0"/>
<rect x="105" y="433" width="3" height="11" fill="#c0c0c0"/>
<rect x="109" y="433" width="3" height="8" fill="#c0c0c0"/>
<rect x="113" y="433" width="3" height="6" fill="#c0c0c0"/>
<rect x="117" y="433" width="3" height="3" fill="#c0c0c0"/>
<rect x="121" y="432" width="3" height="1" fill="#c0c0c0"/>
<rect x="125" y="430" width="3" height="3" fill="#c0c0c0"/>
<rect x="129" y="428" width="3" height="5" fill="#c0c0c0"/>
<rect x="133" y="427" width="3" height="6" fill="#c0c0c0"/>
<rect x="137" y="423" width="3" height="10" fill="#c0c0c0"/>
<rect x="141" y="421" width="3" height="12" fill="#c0c0c0"/>
<rect x="145" y="419" width="3" height="14" fill="#c0c0c0"/>
<rect x="149" y="419" width="3" height="14" fill="#c0c0c0"/>
<rect x="153" y="416" width="3" height="17" fill="#c0c0c0"/>
<rect x="157" y="414" width="3" height="19" fill="#c0c0c0"/>
<rect x="161" y="413" width="3" height="20" fill="#c0c0c0"/>
<rect x="165" y="412" width="3" height="21" fill="#c0c0c0"/>
<rect x="169" y="411" width="3" height="22" fill="#c0c0c0"/>
<rect x="173" y="410" width="3" height="23" fill="#c0c0c0"/>
<rect x="177" y="413" width="3" height="20" fill="#c0c0c0"/>
<rect x="181" y="415" width="3" height="18" fill="#c0c0c0"/>
<rect x="185" y="416" width="3" height="17" fill="#c0c0c0"/>
<rect x="189" y="419" width="3" height="14" fill="#c0c0c0"/>
<rect x="193" y="421" width="3" height="12" fill="#c0c0c0"/>
<rect x="197" y="421" width="3" height="12" fill="#c0c0c0"/>
<rect x="201" y="418" width="3" height="15" fill="#c0c0c0"/>
<rect x="205" y="416" width="3" height="17" fill="#c0c0c0"/>
<rect x="209" y="415" width="3" height="18" fill="#c0c0c0"/>
<rect x="213" y="415" width="3" height="18" fill="#c0c0c0"/>
<rect x="217" y="417" width="3" height="16" fill="#c0c0c0"/>
<rect x="221" y="418" width="3" height="15" fill="#c0c0c0"/>
<rect x="225" y="418" width="3" height="15" fill="#c0c0c0"/>
<rect x="229" y="417" width="3" height="16" fill="#c0c0c0"/>
<rect x="233" y="417" width="3" height="16" fill="#c0c0c0"/>
<rect x="237" y="415" width="3" height="18" fill="#c0c0c0"/>
<rect x="241" y="415" width="3" height="18" fill="#c0c0c0"/>
<rect x="245" y="414" width="3" height="19" fill="#c0c0c0"/>
<rect x="249" y="414" width="3" height="19" fill="#c0c0c0"/>
<rect x="253" y="415" width="3" height="18" fill="#c0c0c0"/>
<rect x="257" y="414" width="3" height="19" fill="#c0c0c0"/>
<rect x="261" y="413" width="3" height="20" fill="#c0c0c0"/>
<rect x="265" y="414" width="3" height="19" fill="#c0c0c0"/>
<rect x="269" y="415" width="3" height="18" fill="#c0c0c0"/>
<rect x="273" y="416" width="3" height="17" fill="#c0c0c0"/>
<rect x="277" y="417" width="3" height="16" fill="#c0c0c0"/>
<rect x="281" y="417" width="3" height="16" fill="#c0c0c0"/>
<rect x="285" y="417" width="3" height="16" fill="#c0c0c0"/>
<rect x="289" y="418" width="3" height="15" fill="#c0c0c0"/>
<rect x="293" y="422" width="3" height="11" fill="#c0c0c0"/>
<rect x="297" y="423" width="3" height="10" fill="#c0c0c0"/>
<rect x="301" y="424" width="3" height="9" fill="#c0c0c0"/>
<rect x="305" y="425" width="3" height="8" fill="#c0c0c0"/>
<rect x="309" y="426" width="3" height="7" fill="#c0c0c0"/>
<rect x="313" y="426" width="3" height="7" fill="#c0c0c0"/>
<rect x="317" y="427" width="3" height="6" fill="#c0c0c0"/>
<rect x="321" y="430" width="3" height="3" fill="#c0c0c0"/>
<rect x="325" y="432" width="3" height="1" fill="#c0c0c0"/>
<rect x="329" y="433" width="3" height="0" fill="#c0c0c0"/>
<rect x="333" y="433" width="3" height="1" fill="#c0c0c0"/>
<rect x="337" y="433" width="3" height="6" fill="#c0c0c0"/>
<rect x="341" y="433" width="3" height="12" fill="#c0c0c0"/>
<rect x="345" y="433" width="3" height="18" fill="#c0c0c0"/>
<rect x="349" y="433" width="3" height="23" fill="#c0c0c0"/>
<rect x="353" y="433" width="3" height="25" fill="#c0c0c0"/>
<rect x="357" y="433" width="3" height="25" fill="#c0c0c0"/>
<rect x="361" y="433" width="3" height="26" fill="#c0c0c0"/>
<rect x="365" y="433" width="3" height="26" fill="#c0c0c0"/>
<rect x="369" y="433" width="3" height="25" fill="#c0c0c0"/>
<rect x="373" y="433" width="3" height="24" fill="#c0c0c0"/>
<rect x="377" y="433" width="3" height="24" fill="#c0c0c0"/>
<rect x="381" y="433" width="3" height="24" fill="#c0c0c0"/>
<rect x="385" y="433" width="3" height="25" fill="#c0c0c0"/>
<rect x="389" y="433" width="3" height="26" fill="#c0c0c0"/>
<rect x="393" y="433" width="3" height="26" fill="#c0c0c0"/>
<rect x="397" y="433" width="3" height="26" fill="#c0c0c0"/>
<rect x="401" y="433" width="3" height="25" fill="#c0c0c0"/>
<rect x="405" y="433" width="3" height="26" fill="#c0c0c0"/>
<rect x="409" y="433" width="3" height="27" fill="#c0c0c0"/>
<rect x="413" y="433" width="3" height="26" fill="#c0c0c0"/>
<rect x="417" y="433" width="3" height="24" fill="#c0c0c0"/>
<rect x="421" y="433" width="3" height="22" fill="#c0c0c0"/>
<rect x="425" y="433" width="3" height="20" fill="#c0c0c0"/>
<rect x="429" y="433" width="3" height="22" fill="#c0c0c0"/>
<rect x="433" y="433" width="3" height="21" fill="#c0c0c0"/>
<rect x="437" y="433" width="3" height="21" fill="#c0c0c0"/>
<rect x="441" y="433" width="3" height="20" fill="#c0c0c0"/>
<rect x="445" y="433" width="3" height="20" fill="#c0c0c0"/>
<rect x="449" y="433" width="3" height="20" fill="#c0c0c0"/>
<rect x="453" y="433" width="3" height="20" fill="#c0c0c0"/>
<rect x="457" y="433" width="3" height="19" fill="#c0c0c0"/>
<rect x="461" y="433" width="3" height="19" fill="#c0c0c0"/>
<rect x="465" y="433" width="3" height="19" fill="#c0c0c0"/>
<rect x="469" y="433" width="3" height="19" fill="#c0c0c0"/>
<rect x="473" y="433" width="3" height="17" fill="#c0c0c0"/>
<rect x="477" y="433" width="3" height="15" fill="#c0c0c0"/>
<rect x="481" y="433" width="3" height="13" fill="#c0c0c0"/>
<rect x="485" y="433" width="3" height="9" fill="#c0c0c0"/>
<rect x="489" y="433" width="3" height="7" fill="#c0c0c0"/>
<rect x="493" y="433" width="3" height="6" fill="#c0c0c0"/>
<rect x="497" y="433" width="3" height="4" fill="#c0c0c0"/>
<rect x="501" y="433" width="3" height="3" fill="#c0c0c0"/>
<rect x="505" y="433" width="3" height="3" fill="#c0c0c0"/>
<rect x="509" y="433" width="3" height="3" fill="#c0c0c0"/>
<rect x="513" y="433" width="3" height="5" fill="#c0c0c0"/>
<rect x="517" y="433" width="3" height="7" fill="#c0c0c0"/>
<rect x="521" y="433" width="3" height="9" fill="#c0c0c0"/>
<rect x="525" y="433" width="3" height="11" fill="#c0c0c0"/>
<rect x="529" y="433" width="3" height="12" fill="#c0c0c0"/>
<rect x="533" y="433" width="3" height="13" fill="#c0c0c0"/>
<rect x="537" y="433" width="3" height="11" fill="#c0c0c0"/>
<rect x="541" y="433" width="3" height="10" fill="#c0c0c0"/>
<rect x="545" y="433" width="3" height="9" fill="#c0c0c0"/>
<rect x="549" y="433" width="3" height="11" fill="#c0c0c0"/>
<rect x="553" y="433" width="3" height="12" fill="#c0c0c0"/>
<rect x="557" y="433" width="3" height="14" fill="#c0c0c0"/>
<rect x="561" y="433" width="3" height="14" fill="#c0c0c0"/>
<rect x="565" y="433" width="3" height="15" fill="#c0c0c0"/>
<rect x="569" y="433" width="3" height="13" fill="#c0c0c0"/>
<rect x="573" y="433" width="3" height="12" fill="#c0c0c0"/>
<rect x="577" y="433" width="3" height="10" fill="#c0c0c0"/>
<rect x="581" y="433" width="3" height="9" fill="#c0c0c0"/>
<rect x="585" y="433" width="3" height="6" fill="#c0c0c0"/>
<rect x="589" y="433" width="3" height="4" fill="#c0c0c0"/>
<rect x="593" y="433" width="3" height="3" fill="#c0c0c0"/>
<rect x="597" y="433" width="3" height="1" fill="#c0c0c0"/>
<rect x="601" y="432" width="3" height="1" fill="#c0c0c0"/>
<rect x="605" y="429" width="3" height="4" fill="#c0c0c0"/>
<rect x="609" y="426" width="3" height="7" fill="#c0c0c0"/>
<rect x="613" y="425" width="3" height="8" fill="#c0c0c0"/>
<rect x="617" y="424" width="3" height="9" fill="#c0c0c0"/>
<rect x="621" y="424" width="3" height="9" fill="#c0c0c0"/>
<rect x="625" y="425" width="3" height="8" fill="#c0c0c0"/>
<rect x="629" y="426" width="3" height="7" fill="#c0c0c0"/>
<rect x="633" y="427" width="3" height="6" fill="#c0c0c0"/>
<rect x="637" y="428" width="3" height="5" fill="#c0c0c0"/>
<rect x="641" y="429" width="3" height="4" fill="#c0c0c0"/>
<rect x="645" y="430" width="3" height="3" fill="#c0c0c0"/>
<rect x="649" y="430" width="3" height="3" fill="#c0c0c0"/>
<rect x="653" y="432" width="3" height="1" fill="#c0c0c0"/>
<rect x="657" y="433" width="3" height="2" fill="#c0c0c0"/>
<rect x="661" y="433" width="3" height="4" fill="#c0c0c0"/>
<rect x="665" y="433" width="3" height="5" fill="#c0c0c0"/>
<rect x="669" y="433" width="3" height="7" fill="#c0c0c0"/>
<rect x="673" y="433" width="3" height="9" fill="#c0c0c0"/>
<rect x="677" y="433" width="3" height="9" fill="#c0c0c0"/>
<rect x="681" y="433" width="3" height="9" fill="#c0c0c0"/>
<rect x="685" y="433" width="3" height="9" fill="#c0c0c0"/>
<rect x="689" y="433" width="3" height="10" fill="#c0c0c0"/>
<rect x="693" y="433" width="3" height="11" fill="#c0c0c0"/>
<rect x="697" y="433" width="3" height="14" fill="#c0c0c0"/>
<rect x="701" y="433" width="3" height="17" fill="#c0c0c0"/>
<rect x="705" y="433" width="3" height="19" fill="#c0c0c0"/>
<rect x="709" y="433" width="3" height="20" fill="#c0c0c0"/>
<rect x="713" y="433" width="3" height="20" fill="#c0c0c0"/>
<rect x="717" y="433" width="3" height="20" fill="#c0c0c0"/>
<rect x="721" y="433" width="3" height="22" fill="#c0c0c0"/>
<rect x="725" y="433" width="3" height="22" fill="#c0c0c0"/>
<rect x="729" y="433" width="3" height="22" fill="#c0c0c0"/>
<rect x="733" y="433" width="3" height="22" fill="#c0c0c0"/>
<rect x="737" y="433" width="3" height="22" fill="#c0c0c0"/>
<rect x="741" y="433" width="3" height="23" fill="#c0c0c0"/>
<rect x="745" y="433" width="3" height="21" fill="#c0c0c0"/>
<rect x="749" y="433" width="3" height="19" fill="#c0c0c0"/>
<rect x="753" y="433" width="3" height="17" fill="#c0c0c0"/>
<rect x="757" y="433" width="3" height="16" fill="#c0c0c0"/>
<rect x="761" y="433" width="3" height="14" fill="#c0c0c0"/>
<rect x="765" y="433" width="3" height="12" fill="#c0c0c0"/>
<rect x="769" y="433" width="3" height="9" fill="#c0c0c0"/>
<rect x="773" y="433" width="3" height="8" fill="#c0c0c0"/>
<rect x="777" y="433" width="3" height="7" fill="#c0c0c0"/>
<rect x="781" y="433" width="3" height="6" fill="#c0c0c0"/>
<rect x="785" y="433" width="3" height="6" fill="#c0c0c0"/>
<rect x="789" y="433" width="3" height="6" fill="#c0c0c0"/>
<rect x="793" y="433" width="3" height="6" fill="#c0c0c0"/>
<rect x="797" y="433" width="3" height="3" fill="#c0c0c0"/>
<rect x="801" y="433" width="3" height="5" fill="#c0c0c0"/>
<rect x="805" y="433" width="3" height="6" fill="#c0c0c0"/>
<rect x="809" y="433" width="3" height="6" fill="#c0c0c0"/>
<rect x="813" y="433" width="3" height="6" fill="#c0c0c0"/>
<rect x="817" y="433" width="3" height="5" fill="#c0c0c0"/>
<rect x="821" y="433" width="3" height="6" fill="#c0c0c0"/>
<rect x="825" y="433" width="3" height="7" fill="#c0c0c0"/>
<rect x="829" y="433" width="3" height="7" fill="#c0c0c0"/>
<rect x="833" y="433" width="3" height="7" fill="#c0c0c0"/>
<rect x="837" y="433" width="3" height="6" fill="#c0c0c0"/>
<rect x="841" y="433" width="3" height="9" fill="#c0c0c0"/>
<rect x="845" y="433" width="3" height="12" fill="#c0c0c0"/>
<rect x="849" y="433" width="3" height="14" fill="#c0c0c0"/>
<rect x="853" y="433" width="3" height="16" fill="#c0c0c0"/>
<rect x="857" y="433" width="3" height="20" fill="#c0c0c0"/>
<rect x="861" y="433" width="3" height="24" fill="#c0c0c0"/>
<rect x="865" y="433" width="3" height="27" fill="#c0c0c0"/>
<rect x="869" y="433" width="3" height="28" fill="#c0c0c0"/>
<rect x="873" y="433" width="3" height="30" fill="#c0c0c0"/>
<rect x="877" y="433" width="3" height="32" fill="#c0c0c0"/>
<rect x="881" y="433" width="3" height="35" fill="#c0c0c0"/>
<rect x="885" y="433" width="3" height="36" fill="#c0c0c0"/>
<rect x="889" y="433" width="3" height="38" fill="#c0c0c0"/>
<rect x="893" y="433" width="3" height="39" fill="#c0c0c0"/>
<rect x="897" y="433" width="3" height="36" fill="#c0c0c0"/>
<rect x="901" y="433" width="3" height="33" fill="#c0c0c0"/>
<rect x="905" y="433" width="3" height="31" fill="#c0c0c0"/>
<rect x="909" y="433" width="3" height="28" fill="#c0c0c0"/>
<rect x="913" y="433" width="3" height="26" fill="#c0c0c0"/>
<rect x="917" y="433" width="3" height="24" fill="#c0c0c0"/>
<rect x="921" y="433" width="3" height="22" fill="#c0c0c0"/>
<polyline points="2.5,442.5 6.5,444.5 10.5,447.5 14.5,449.5 18.5,450.5 22.5,451.5 26.5,452.5 30.5,453.5 34.5,454.5 38.5,454.5 42.5,453.5 46.5,453.5 50.5,453.5 54.5,453.5 58.5,454.5 62.5,454.5 66.5,455.5 70.5,456.5 74.5,457.5 78.5,458.5 82.5,460.5 86.5,460.5 90.5,461.5 94.5,460.5 98.5,459.5 102.5,458.5 106.5,456.5 110.5,454.5 114.5,451.5 118.5,448.5 122.5,445.5 126.5,441.5 130.5,438.5 134.5,436.5 138.5,433.5 142.5,431.5 146.5,428.5 150.5,426.5 154.5,424.5 158.5,422.5 162.5,420.5 166.5,418.5 170.5,417.5 174.5,415.5 178.5,414.5 182.5,414.5 186.5,414.5 190.5,414.5 194.5,415.5 198.5,415.5 202.5,416.5 206.5,417.5 210.5,417.5 214.5,417.5 218.5,418.5 222.5,418.5 226.5,418.5 230.5,417.5 234.5,417.5 238.5,416.5 242.5,416.5 246.5,416.5 250.5,416.5 254.5,416.5 258.5,415.5 262.5,415.5 266.5,415.5 270.5,414.5 274.5,414.5 278.5,415.5 282.5,415.5 286.5,416.5 290.5,416.5 294.5,417.5 298.5,418.5 302.5,419.5 306.5,420.5 310.5,421.5 314.5,422.5 318.5,423.5 322.5,425.5 326.5,426.5 330.5,428.5 334.5,429.5 338.5,430.5 342.5,433.5 346.5,435.5 350.5,439.5 354.5,442.5 358.5,445.5 362.5,448.5 366.5,451.5 370.5,454.5 374.5,456.5 378.5,457.5 382.5,458.5 386.5,458.5 390.5,458.5 394.5,458.5 398.5,458.5 402.5,458.5 406.5,458.5 410.5,459.5 414.5,459.5 418.5,459.5 422.5,458.5 426.5,458.5 430.5,457.5 434.5,457.5 438.5,456.5 442.5,456.5 446.5,455.5 450.5,454.5 454.5,454.5 458.5,453.5 462.5,453.5 466.5,453.5 470.5,452.5 474.5,452.5 478.5,451.5 482.5,451.5 486.5,449.5 490.5,448.5 494.5,447.5 498.5,445.5 502.5,443.5 506.5,441.5 510.5,440.5 514.5,439.5 518.5,438.5 522.5,438.5 526.5,439.5 530.5,439.5 534.5,440.5 538.5,441.5 542.5,442.5 546.5,443.5 550.5,443.5 554.5,444.5 558.5,444.5 562.5,445.5 566.5,445.5 570.5,445.5 574.5,445.5 578.5,445.5 582.5,445.5 586.5,445.5 590.5,444.5 594.5,443.5 598.5,441.5 602.5,439.5 606.5,437.5 610.5,435.5 614.5,433.5 618.5,431.5 622.5,430.5 626.5,428.5 630.5,427.5 634.5,426.5 638.5,426.5 642.5,426.5 646.5,426.5 650.5,427.5 654.5,428.5 658.5,429.5 662.5,430.5 666.5,432.5 670.5,433.5 674.5,435.5 678.5,436.5 682.5,437.5 686.5,439.5 690.5,440.5 694.5,441.5 698.5,442.5 702.5,443.5 706.5,445.5 710.5,446.5 714.5,447.5 718.5,449.5 722.5,450.5 726.5,451.5 730.5,453.5 734.5,453.5 738.5,454.5 742.5,454.5 746.5,454.5 750.5,454.5 754.5,454.5 758.5,453.5 762.5,453.5 766.5,451.5 770.5,450.5 774.5,448.5 778.5,447.5 782.5,445.5 786.5,444.5 790.5,442.5 794.5,441.5 798.5,440.5 802.5,439.5 806.5,439.5 810.5,439.5 814.5,439.5 818.5,439.5 822.5,439.5 826.5,439.5 830.5,439.5 834.5,439.5 838.5,439.5 842.5,440.5 846.5,440.5 850.5,441.5 854.5,442.5 858.5,444.5 862.5,446.5 866.5,448.5 870.5,450.5 874.5,453.5 878.5,456.5 882.5,458.5 886.5,461.5 890.5,463.5 894.5,465.5 898.5,466.5 902.5,467.5 906.5,467.5 910.5,467.5 914.5,466.5 918.5,465.5 922.5,464.5" fill="none" stroke="#ff0000" stroke-width="1" /></g>
<g clip-path="url(#rsiclip)"><line x1="3" y1="499.5" x2="1164" y2="499.5" stroke="#b4b4b4" stroke-width="1" stroke-dasharray="3 3"/>
<line x1="3" y1="527.5" x2="1164" y2="527.5" stroke="#b4b4b4" stroke-width="1" stroke-dasharray="3 3"/>
<polyline points="2.5,524.5 6.5,523.5 10.5,518.5 14.5,520.5 18.5,519.5 22.5,521.5 26.5,522.5 30.5,515.5 34.5,519.5 38.5,520.5 42.5,521.5 46.5,517.5 50.5,522.5 54.5,523.5 58.5,525.5 62.5,524.5 66.5,524.5 70.5,525.5 74.5,527.5 78.5,526.5 82.5,521.5 86.5,522.5 90.5,517.5 94.5,513.5 98.5,513.5 102.5,510.5 106.5,511.5 110.5,511.5 114.5,510.5 118.5,507.5 122.5,505.5 126.5,507.5 130.5,506.5 134.5,507.5 138.5,502.5 142.5,503.5 146.5,503.5 150.5,506.5 154.5,500.5 158.5,501.5 162.5,503.5 166.5,502.5 170.5,500.5 174.5,501.5 178.5,512.5 182.5,511.5 186.5,508.5 190.5,512.5 194.5,513.5 198.5,509.5 202.5,503.5 206.5,503.5 210.5,506.5 214.5,505.5 218.5,511.5 222.5,511.5 226.5,507.5 230.5,506.5 234.5,506.5 238.5,502.5 242.5,507.5 246.5,504.5 250.5,508.5 254.5,508.5 258.5,506.5 262.5,504.5 266.5,509.5 270.5,509.5 274.5,508.5 278.5,509.5 282.5,506.5 286.5,508.5 290.5,509.5 294.5,515.5 298.5,512.5 302.5,512.5 306.5,510.5 310.5,512.5 314.5,512.5 318.5,512.5 322.5,518.5 326.5,517.5 330.5,516.5 334.5,516.5 338.5,525.5 342.5,528.5 346.5,530.5 350.5,530.5 354.5,525.5 358.5,523.5 362.5,523.5 366.5,524.5 370.5,523.5 374.5,522.5 378.5,523.5 382.5,525.5 386.5,527.5 390.5,528.5 394.5,524.5 398.5,525.5 402.5,524.5 406.5,527.5 410.5,528.5 414.5,521.5 418.5,518.5 422.5,519.5 426.5,520.5 430.5,525.5 434.5,519.5 438.5,521.5 442.5,521.5 446.5,520.5 450.5,522.5 454.5,522.5 458.5,521.5 462.5,523.5 466.5,523.5 470.5,523.5 474.5,517.5 478.5,516.5 482.5,513.5 486.5,508.5 490.5,512.5 494.5,511.5 498.5,510.5 502.5,511.5 506.5,515.5 510.5,515.5 514.5,522.5 518.5,523.5 522.5,524.5 526.5,525.5 530.5,522.5 534.5,522.5 538.5,514.5 542.5,514.5 546.5,516.5 550.5,523.5 554.5,523.5 558.5,525.5 562.5,522.5 566.5,522.5 570.5,516.5 574.5,515.5 578.5,513.5 582.5,515.5 586.5,510.5 590.5,510.5 594.5,510.5 598.5,509.5 602.5,505.5 606.5,503.5 610.5,501.5 614.5,502.5 618.5,505.5 622.5,509.5 626.5,512.5 630.5,511.5 634.5,513.5 638.5,513.5 642.5,513.5 646.5,515.5 650.5,511.5 654.5,519.5 658.5,522.5 662.5,522.5 666.5,522.5 670.5,523.5 674.5,526.5 678.5,517.5 682.5,520.5 686.5,519.5 690.5,521.5 694.5,522.5 698.5,528.5 702.5,530.5 706.5,526.5 710.5,525.5 714.5,524.5 718.5,525.5 722.5,528.5 726.5,527.5 730.5,524.5 734.5,525.5 738.5,526.5 742.5,528.5 746.5,518.5 750.5,519.5 754.5,517.5 758.5,518.5 762.5,515.5 766.5,513.5 770.5,511.5 774.5,514.5 778.5,513.5 782.5,513.5 786.5,518.5 790.5,517.5 794.5,517.5 798.5,507.5 802.5,519.5 806.5,519.5 810.5,515.5 814.5,516.5 818.5,513.5 822.5,518.5 826.5,518.5 830.5,516.5 834.5,514.5 838.5,514.5 842.5,522.5 846.5,524.5 850.5,524.5 854.5,524.5 858.5,528.5 862.5,530.5 866.5,530.5 870.5,524.5 874.5,528.5 878.5,528.5 882.5,529.5 886.5,529.5 890.5,531.5 894.5,530.5 898.5,519.5 902.5,521.5 906.5,520.5 910.5,517.5 914.5,518.5 918.5,519.5 922.5,518.5" fill="none" stroke="#1e90ff" stroke-width="1" /></g>
<path d="M5 35.5 L8.5 32 L12 35.5 Z" fill="#000"/>
<text x="17" y="37" font-size="9.9" fill="#000" text-anchor="start" font-weight="normal" textLength="66.68" lengthAdjust="spacingAndGlyphs">EURUSD-,Daily</text>
<text x="91" y="37" font-size="9.9" fill="#000" text-anchor="start" font-weight="normal" textLength="140.68" lengthAdjust="spacingAndGlyphs">1.13047 1.13324 1.12657 1.13109</text>
<text x="6" y="419" font-size="9.9" fill="#000" text-anchor="start" font-weight="normal" textLength="153.53" lengthAdjust="spacingAndGlyphs">MACD(12,26,9) -0.005650 -0.007830</text>
<text x="6" y="490" font-size="9.9" fill="#000" text-anchor="start" font-weight="normal" textLength="68.24" lengthAdjust="spacingAndGlyphs">RSI(14) 42.0129</text>
<rect x="3" y="43" width="223" height="61" fill="#fff"/>
<path d="M5.5 45.5 H56.5 V69.5 H113.5 V101.5 H5.5 Z" fill="url(#blkg)" stroke="#0000a0" stroke-width="1"/>
<rect x="6" y="46" width="50" height="23" fill="url(#tabg)"/>
<rect x="9" y="68" width="44" height="1" fill="#000090"/><rect x="9" y="69" width="44" height="1" fill="#8080ff"/>
<path d="M172.5 45.5 H223.5 V101.5 H116.5 V69.5 H172.5 Z" fill="url(#blkg)" stroke="#0000a0" stroke-width="1"/>
<rect x="173" y="46" width="50" height="23" fill="url(#tabg)"/>
<rect x="176" y="68" width="44" height="1" fill="#000090"/><rect x="176" y="69" width="44" height="1" fill="#8080ff"/>
<rect x="57" y="45" width="115" height="24" fill="#fff"/>
<rect x="59.5" y="45.5" width="110" height="21" fill="#fff" stroke="#b4b4b4"/>
<rect x="61" y="47" width="19" height="18" fill="url(#btng)"/>
<rect x="80" y="46" width="1" height="20" fill="#b4b4b4"/>
<rect x="149" y="47" width="19" height="18" fill="url(#btng)"/>
<rect x="148" y="46" width="1" height="20" fill="#b4b4b4"/>
<path d="M67.5 54 L72.5 54 L70 57 Z" fill="#6070b0"/>
<path d="M156 57 L161 57 L158.5 54 Z" fill="#6070b0"/>
<text x="144.5" y="60" font-size="12" fill="#000" text-anchor="end" font-weight="normal">3.00</text>
<text x="30.5" y="61" font-size="12" fill="#fff" text-anchor="middle" font-weight="normal" letter-spacing="-0.8">SELL</text>
<text x="197.5" y="61" font-size="12" fill="#fff" text-anchor="middle" font-weight="normal" letter-spacing="-0.8">BUY</text>
<text x="25.5" y="97" font-size="12" fill="#fff" text-anchor="start" font-weight="bold" letter-spacing="-0.2">1.13</text>
<text x="52.5" y="97" font-size="34" fill="#fff" text-anchor="start" font-weight="normal" letter-spacing="-1.8">10</text>
<text x="92.5" y="81" font-size="10.5" fill="#fff" text-anchor="start" font-weight="bold">9</text>
<text x="136" y="97" font-size="12" fill="#fff" text-anchor="start" font-weight="bold" letter-spacing="-0.2">1.13</text>
<text x="163.5" y="97" font-size="34" fill="#fff" text-anchor="start" font-weight="normal" letter-spacing="-1.8">12</text>
<text x="202.5" y="81" font-size="10.5" fill="#fff" text-anchor="start" font-weight="bold">8</text>
<rect x="1165" y="38" width="2" height="1" fill="#000"/>
<text x="1170" y="42" font-size="9.7" fill="#000" text-anchor="start" font-weight="normal" textLength="33.43" lengthAdjust="spacingAndGlyphs">1.22860</text>
<rect x="1165" y="71" width="2" height="1" fill="#000"/>
<text x="1170" y="75" font-size="9.7" fill="#000" text-anchor="start" font-weight="normal" textLength="33.43" lengthAdjust="spacingAndGlyphs">1.21840</text>
<rect x="1165" y="104" width="2" height="1" fill="#000"/>
<text x="1170" y="108" font-size="9.7" fill="#000" text-anchor="start" font-weight="normal" textLength="33.43" lengthAdjust="spacingAndGlyphs">1.20820</text>
<rect x="1165" y="137" width="2" height="1" fill="#000"/>
<text x="1170" y="141" font-size="9.7" fill="#000" text-anchor="start" font-weight="normal" textLength="33.43" lengthAdjust="spacingAndGlyphs">1.19800</text>
<rect x="1165" y="170" width="2" height="1" fill="#000"/>
<text x="1170" y="174" font-size="9.7" fill="#000" text-anchor="start" font-weight="normal" textLength="33.43" lengthAdjust="spacingAndGlyphs">1.18780</text>
<rect x="1165" y="203" width="2" height="1" fill="#000"/>
<text x="1170" y="207" font-size="9.7" fill="#000" text-anchor="start" font-weight="normal" textLength="33.43" lengthAdjust="spacingAndGlyphs">1.17760</text>
<rect x="1165" y="236" width="2" height="1" fill="#000"/>
<text x="1170" y="240" font-size="9.7" fill="#000" text-anchor="start" font-weight="normal" textLength="33.43" lengthAdjust="spacingAndGlyphs">1.16740</text>
<rect x="1165" y="269" width="2" height="1" fill="#000"/>
<text x="1170" y="273" font-size="9.7" fill="#000" text-anchor="start" font-weight="normal" textLength="33.43" lengthAdjust="spacingAndGlyphs">1.15720</text>
<rect x="1165" y="302" width="2" height="1" fill="#000"/>
<text x="1170" y="306" font-size="9.7" fill="#000" text-anchor="start" font-weight="normal" textLength="33.43" lengthAdjust="spacingAndGlyphs">1.14700</text>
<rect x="1165" y="335" width="2" height="1" fill="#000"/>
<text x="1170" y="339" font-size="9.7" fill="#000" text-anchor="start" font-weight="normal" textLength="33.43" lengthAdjust="spacingAndGlyphs">1.13680</text>
<rect x="1165" y="368" width="2" height="1" fill="#000"/>
<text x="1170" y="372" font-size="9.7" fill="#000" text-anchor="start" font-weight="normal" textLength="33.43" lengthAdjust="spacingAndGlyphs">1.12660</text>
<rect x="1165" y="401" width="2" height="1" fill="#000"/>
<text x="1170" y="405" font-size="9.7" fill="#000" text-anchor="start" font-weight="normal" textLength="32.75" lengthAdjust="spacingAndGlyphs">1.11670</text>
<rect x="1166" y="156" width="39" height="11" fill="#ff0000"/>
<text x="1170" y="165" font-size="9.7" fill="#fff" textLength="32" lengthAdjust="spacingAndGlyphs">1.19010</text>
<rect x="1166" y="221" width="39" height="11" fill="#ff0000"/>
<text x="1170" y="230" font-size="9.7" fill="#fff" textLength="32" lengthAdjust="spacingAndGlyphs">1.17012</text>
<rect x="1166" y="277" width="39" height="11" fill="#ff0000"/>
<text x="1170" y="286" font-size="9.7" fill="#fff" textLength="32" lengthAdjust="spacingAndGlyphs">1.15299</text>
<rect x="1166" y="318" width="39" height="11" fill="#00ff00"/>
<text x="1170" y="327" font-size="9.7" fill="#fff" textLength="32" lengthAdjust="spacingAndGlyphs">1.14017</text>
<rect x="1166" y="382" width="39" height="11" fill="#0000ff"/>
<text x="1170" y="391" font-size="9.7" fill="#fff" textLength="32" lengthAdjust="spacingAndGlyphs">1.12042</text>
<rect x="1166" y="349" width="39" height="11" fill="#000"/>
<text x="1170" y="358" font-size="9.7" fill="#fff" text-anchor="start" font-weight="normal" textLength="33.43" lengthAdjust="spacingAndGlyphs">1.13109</text>
<rect x="1165" y="408" width="2" height="1" fill="#000"/>
<text x="1168" y="416.5" font-size="9.7" fill="#000" text-anchor="start" font-weight="normal" textLength="37.89" lengthAdjust="spacingAndGlyphs">0.006611</text>
<rect x="1165" y="433" width="2" height="1" fill="#000"/>
<text x="1168" y="437" font-size="9.7" fill="#000" text-anchor="start" font-weight="normal" textLength="18.00" lengthAdjust="spacingAndGlyphs">0.00</text>
<rect x="1165" y="474" width="2" height="1" fill="#000"/>
<text x="1168" y="471.5" font-size="9.7" fill="#000" text-anchor="start" font-weight="normal" textLength="41.66" lengthAdjust="spacingAndGlyphs">-0.010593</text>
<rect x="1165" y="479" width="2" height="1" fill="#000"/>
<text x="1168" y="488" font-size="9.7" fill="#000" text-anchor="start" font-weight="normal" textLength="15.43" lengthAdjust="spacingAndGlyphs">100</text>
<rect x="1165" y="499" width="2" height="1" fill="#000"/>
<text x="1168" y="503" font-size="9.7" fill="#000" text-anchor="start" font-weight="normal" textLength="10.29" lengthAdjust="spacingAndGlyphs">70</text>
<rect x="1165" y="527" width="2" height="1" fill="#000"/>
<text x="1168" y="531" font-size="9.7" fill="#000" text-anchor="start" font-weight="normal" textLength="10.29" lengthAdjust="spacingAndGlyphs">30</text>
<rect x="1165" y="547" width="2" height="1" fill="#000"/>
<text x="1168" y="545.5" font-size="9.7" fill="#000" text-anchor="start" font-weight="normal" textLength="5.14" lengthAdjust="spacingAndGlyphs">0</text>
<rect x="2" y="550" width="1" height="3" fill="#000"/>
<text x="1" y="562" font-size="10.3" fill="#000" text-anchor="start" font-weight="normal" textLength="46.28" lengthAdjust="spacingAndGlyphs">9 Mar 2021</text>
<rect x="66" y="550" width="1" height="3" fill="#000"/>
<text x="65" y="562" font-size="10.3" fill="#000" text-anchor="start" font-weight="normal" textLength="51.37" lengthAdjust="spacingAndGlyphs">28 Mar 2021</text>
<rect x="130" y="550" width="1" height="3" fill="#000"/>
<text x="129" y="562" font-size="10.3" fill="#000" text-anchor="start" font-weight="normal" textLength="49.35" lengthAdjust="spacingAndGlyphs">16 Apr 2021</text>
<rect x="194" y="550" width="1" height="3" fill="#000"/>
<text x="193" y="562" font-size="10.3" fill="#000" text-anchor="start" font-weight="normal" textLength="47.81" lengthAdjust="spacingAndGlyphs">5 May 2021</text>
<rect x="258" y="550" width="1" height="3" fill="#000"/>
<text x="257" y="562" font-size="10.3" fill="#000" text-anchor="start" font-weight="normal" textLength="52.90" lengthAdjust="spacingAndGlyphs">24 May 2021</text>
<rect x="322" y="550" width="1" height="3" fill="#000"/>
<text x="321" y="562" font-size="10.3" fill="#000" text-anchor="start" font-weight="normal" textLength="49.69" lengthAdjust="spacingAndGlyphs">11 Jun 2021</text>
<rect x="386" y="550" width="1" height="3" fill="#000"/>
<text x="385" y="562" font-size="10.3" fill="#000" text-anchor="start" font-weight="normal" textLength="50.37" lengthAdjust="spacingAndGlyphs">30 Jun 2021</text>
<rect x="450" y="550" width="1" height="3" fill="#000"/>
<text x="449" y="562" font-size="10.3" fill="#000" text-anchor="start" font-weight="normal" textLength="47.31" lengthAdjust="spacingAndGlyphs">19 Jul 2021</text>
<rect x="514" y="550" width="1" height="3" fill="#000"/>
<text x="513" y="562" font-size="10.3" fill="#000" text-anchor="start" font-weight="normal" textLength="46.30" lengthAdjust="spacingAndGlyphs">6 Aug 2021</text>
<rect x="578" y="550" width="1" height="3" fill="#000"/>
<text x="577" y="562" font-size="10.3" fill="#000" text-anchor="start" font-weight="normal" textLength="51.39" lengthAdjust="spacingAndGlyphs">25 Aug 2021</text>
<rect x="642" y="550" width="1" height="3" fill="#000"/>
<text x="641" y="562" font-size="10.3" fill="#000" text-anchor="start" font-weight="normal" textLength="51.89" lengthAdjust="spacingAndGlyphs">13 Sep 2021</text>
<rect x="706" y="550" width="1" height="3" fill="#000"/>
<text x="705" y="562" font-size="10.3" fill="#000" text-anchor="start" font-weight="normal" textLength="44.76" lengthAdjust="spacingAndGlyphs">1 Oct 2021</text>
<rect x="770" y="550" width="1" height="3" fill="#000"/>
<text x="769" y="562" font-size="10.3" fill="#000" text-anchor="start" font-weight="normal" textLength="49.85" lengthAdjust="spacingAndGlyphs">20 Oct 2021</text>
<rect x="834" y="550" width="1" height="3" fill="#000"/>
<text x="833" y="562" font-size="10.3" fill="#000" text-anchor="start" font-weight="normal" textLength="46.80" lengthAdjust="spacingAndGlyphs">8 Nov 2021</text>
<rect x="898" y="550" width="1" height="3" fill="#000"/>
<text x="897" y="562" font-size="10.3" fill="#000" text-anchor="start" font-weight="normal" textLength="51.88" lengthAdjust="spacingAndGlyphs">26 Nov 2021</text>
<rect x="0" y="570" width="1205" height="1" fill="#e3e3e3"/>
<rect x="0" y="572" width="1205" height="1" fill="#000"/>
<rect x="0" y="573" width="1205" height="18" fill="#f0f0f0"/>
<rect x="0" y="591" width="1205" height="4" fill="#fafafa"/>
<rect x="0" y="592" width="1205" height="1" fill="#e3e3e3"/>
<rect x="104" y="571" width="106" height="19" fill="#fff"/>
<path d="M103.5 572 V590.5 H210.5 V572" fill="none" stroke="#000" stroke-width="1"/>
<rect x="211" y="573" width="1" height="18" fill="#808080"/>
<text x="14.5" y="586.5" font-size="12" fill="#6d6d6d" text-anchor="start" font-weight="normal">USDX,Weekly</text>
<text x="115" y="586.5" font-size="12" fill="#000" text-anchor="start" font-weight="normal">EURUSD-,Daily</text>
<text x="221" y="586.5" font-size="12" fill="#6d6d6d" text-anchor="start" font-weight="normal">AUDUSD-,Daily</text>
<text x="332" y="586.5" font-size="12" fill="#6d6d6d" text-anchor="start" font-weight="normal">USDCHF-,H4</text>
<text x="426.5" y="586.5" font-size="12" fill="#6d6d6d" text-anchor="start" font-weight="normal">USDCAD-,Daily</text>
<text x="535" y="586.5" font-size="12" fill="#6d6d6d" text-anchor="start" font-weight="normal">USDCNH-,Daily</text>
<text x="646" y="586.5" font-size="12" fill="#6d6d6d" text-anchor="start" font-weight="normal">XAUUSD-,Daily</text>
<text x="754.5" y="586.5" font-size="12" fill="#6d6d6d" text-anchor="start" font-weight="normal">UKOil-,Daily</text>
<text x="847.5" y="586.5" font-size="12" fill="#6d6d6d" text-anchor="start" font-weight="normal">DJ30-,H4</text>
<text x="922.5" y="586.5" font-size="12" fill="#6d6d6d" text-anchor="start" font-weight="normal">UK100-,Daily</text>
<rect x="319" y="576" width="1" height="12" fill="#808080"/>
<rect x="415" y="576" width="1" height="12" fill="#808080"/>
<rect x="523" y="576" width="1" height="12" fill="#808080"/>
<rect x="635" y="576" width="1" height="12" fill="#808080"/>
<rect x="743" y="576" width="1" height="12" fill="#808080"/>
<rect x="835" y="576" width="1" height="12" fill="#808080"/>
<rect x="910" y="576" width="1" height="12" fill="#808080"/>
<rect x="1007" y="576" width="1" height="12" fill="#808080"/>
<path d="M1178 580.5 L1183 576 V585 Z" fill="#909090"/>
<path d="M1203 580.5 L1198 576 V585 Z" fill="#909090"/>
</svg></body></html>
